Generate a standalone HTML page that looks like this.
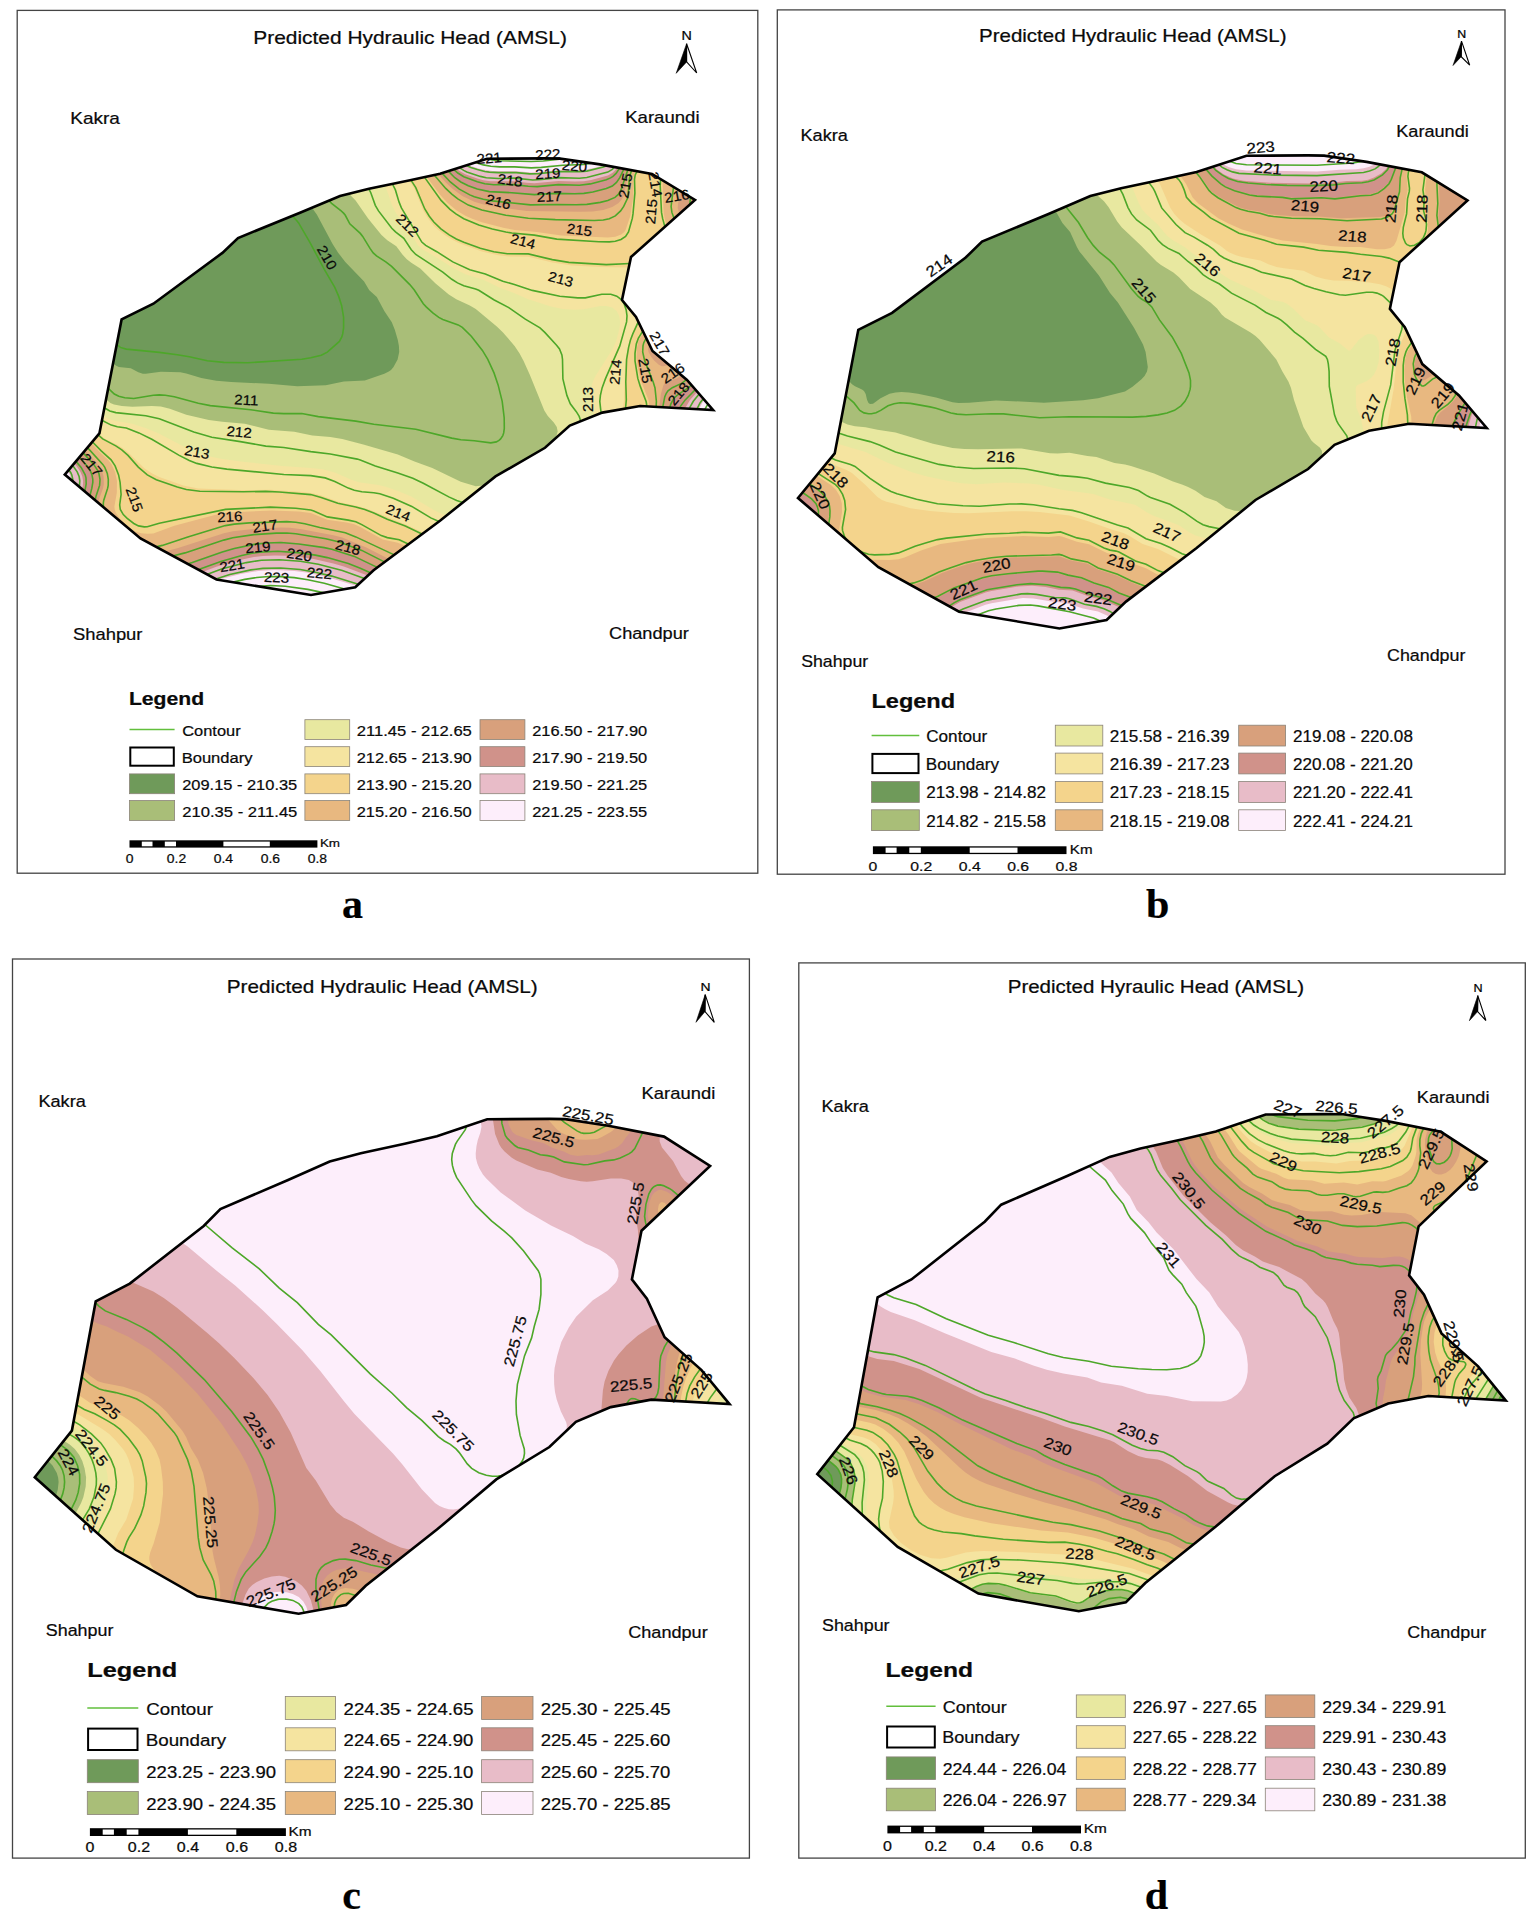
<!DOCTYPE html>
<html lang="en"><head><meta charset="utf-8"><title>Predicted Hydraulic Head (AMSL)</title>
<style>
html,body{margin:0;padding:0;background:#fff}
svg{display:block}
text{font-family:"Liberation Sans",sans-serif;fill:#0a0a0a;stroke:#0a0a0a;stroke-width:0.22px}
.cl{fill:none;stroke:#4da729;stroke-width:1.6}
.lb{font-size:13.5px;fill:#111}
</style></head><body>
<svg width="1535" height="1914" viewBox="0 0 1535 1914">
<rect width="1535" height="1914" fill="#fff"/>
<g id="panel-a">
<rect x="17.2" y="10.4" width="740.6" height="862.8" fill="#fff" stroke="#444" stroke-width="1.3"/>
<text transform="translate(253.3,44.3) scale(1.195,1)" font-size="17.5">Predicted Hydraulic Head (AMSL)</text>
<text transform="translate(686.7,39.8) scale(1.200,1)" font-size="11.9" text-anchor="middle" style="fill:#000">N</text>
<path d="M686.6,43.7L696.7,73.0L686.6,61.9Z" fill="#fff" stroke="#000" stroke-width="1.1" stroke-linejoin="miter"/>
<path d="M686.6,43.7L676.2,73.3L686.6,61.9Z" fill="#000" stroke="#000" stroke-width="0.6"/>
<text transform="translate(70.2,123.8) scale(1.159,1)" font-size="16.4">Kakra</text>
<text transform="translate(625.2,123.0) scale(1.134,1)" font-size="16.4">Karaundi</text>
<text transform="translate(73.0,639.9) scale(1.121,1)" font-size="16.4">Shahpur</text>
<text transform="translate(609.0,638.5) scale(1.110,1)" font-size="16.4">Chandpur</text>
<clipPath id="clip-a"><polygon points="64.8,474.6 99.4,433.4 121.6,319.4 153.4,303.7 222.4,252.9 238.0,238.0 300.6,212.5 340.0,196.0 369.0,188.7 410.0,180.3 440.0,173.7 487.0,158.8 545.0,158.4 560.0,158.6 600.0,164.4 652.0,174.0 695.0,200.0 631.0,257.0 622.0,300.0 636.0,317.0 652.5,351.0 687.0,380.0 713.1,410.0 640.1,406.0 602.3,412.6 569.8,425.6 545.0,447.8 495.5,476.4 440.0,520.7 373.6,570.2 355.3,587.2 311.0,595.0 216.5,579.5 140.5,538.5"/></clipPath>
<g clip-path="url(#clip-a)">
<polygon points="64.8,474.6 99.4,433.4 121.6,319.4 153.4,303.7 222.4,252.9 238.0,238.0 300.6,212.5 340.0,196.0 369.0,188.7 410.0,180.3 440.0,173.7 487.0,158.8 545.0,158.4 560.0,158.6 600.0,164.4 652.0,174.0 695.0,200.0 631.0,257.0 622.0,300.0 636.0,317.0 652.5,351.0 687.0,380.0 713.1,410.0 640.1,406.0 602.3,412.6 569.8,425.6 545.0,447.8 495.5,476.4 440.0,520.7 373.6,570.2 355.3,587.2 311.0,595.0 216.5,579.5 140.5,538.5" fill="#6f9a5a"/>
<path d="M60.3,152.4L718.8,152.4L718.8,600.9L58.8,600.9L58.8,152.4L60.3,152.4ZM180.1,165.9L163.8,167.3L150.3,170.3L138.1,174.9L126.3,181.7L115.8,190.5L107.4,200.4L100.8,211.2L95.2,224.4L91.2,239.4L88.7,257.4L88.4,276.9L90.1,297.9L93.7,318.9L99.3,338.9L105.3,352.7L108.3,357.5L112.8,363.0L115.8,365.5L118.8,366.9L130.8,368.2L138.3,372.2L142.8,373.7L145.8,373.8L160.8,371.8L180.3,372.3L186.3,373.5L201.3,378.1L216.3,380.8L231.3,382.1L268.8,383.7L297.3,386.3L325.8,385.3L343.8,381.5L364.8,380.6L384.3,373.8L388.8,371.6L391.0,369.9L393.5,366.9L397.6,359.4L399.2,351.9L398.9,345.9L397.8,339.9L394.8,329.8L391.8,322.2L384.3,311.0L376.8,297.1L369.3,290.3L364.1,281.4L345.3,261.9L338.3,252.9L332.6,243.9L316.8,214.5L313.2,209.4L303.2,201.9L286.9,192.9L270.2,185.4L249.8,177.9L231.3,172.5L213.3,168.6L196.8,166.5L180.1,165.9Z" fill="#a9be78" fill-rule="evenodd"/>
<path d="M60.3,152.4L82.6,152.4L74.3,162.9L68.0,173.4L62.8,185.4L58.8,198.8L58.8,152.4L60.3,152.4ZM279.3,152.4L718.8,152.4L718.8,600.9L58.8,600.9L58.8,282.4L63.0,302.4L68.8,323.4L75.5,342.9L82.9,360.9L91.8,378.9L99.3,391.0L106.8,400.1L110.4,402.9L114.0,404.4L121.8,405.9L132.3,406.8L151.8,405.9L160.8,406.4L169.8,408.7L186.3,414.8L208.8,419.9L222.3,421.8L244.8,423.8L268.8,429.7L294.3,431.8L312.3,435.4L330.3,437.0L342.3,439.0L363.3,444.4L397.8,454.6L414.5,461.4L432.3,467.9L460.8,481.7L475.8,486.3L484.8,485.2L496.8,481.9L508.8,476.9L520.8,470.4L532.0,462.9L542.8,453.9L551.1,444.9L555.9,437.4L557.7,431.4L556.8,426.9L553.8,422.6L547.8,416.1L544.3,410.4L529.8,374.7L523.6,360.9L519.6,353.4L514.6,345.9L503.0,332.4L496.8,326.4L475.8,309.0L469.8,305.4L456.3,299.2L448.8,294.4L435.3,283.2L420.3,268.4L411.3,262.7L406.8,259.2L402.4,254.4L396.3,246.2L387.3,240.3L381.5,234.9L368.1,218.4L355.6,200.4L349.8,194.4L314.1,170.4L297.4,161.4L277.8,152.4L279.3,152.4Z" fill="#e8e8a0" fill-rule="evenodd"/>
<path d="M336.3,152.4L718.8,152.4L718.8,600.9L58.8,600.9L58.8,350.4L73.5,378.9L86.7,399.9L91.8,406.4L97.2,411.9L102.3,415.6L108.3,418.7L115.8,421.1L132.3,423.8L146.8,428.4L159.3,433.8L190.8,450.2L199.8,453.8L207.3,456.0L222.3,458.9L244.8,461.9L282.3,466.0L310.8,467.9L322.8,469.3L334.8,472.6L351.3,479.8L358.8,482.3L378.3,485.1L385.8,486.8L399.3,491.4L411.3,496.6L433.8,510.0L439.8,513.0L447.3,515.7L456.3,517.8L465.3,519.1L472.8,519.5L480.3,519.2L489.3,518.1L505.8,513.8L523.8,506.2L541.8,495.6L550.8,489.1L559.8,481.7L574.1,467.4L580.1,459.9L585.2,452.4L589.3,444.9L591.8,438.9L593.7,432.9L594.7,426.9L594.6,417.9L590.8,398.4L590.7,392.4L591.5,386.4L593.3,380.4L595.5,375.9L612.3,349.4L616.1,341.4L619.6,327.9L620.2,321.9L619.2,315.9L616.8,311.3L612.3,307.5L606.3,305.9L600.3,306.1L583.8,309.3L574.8,309.8L562.8,309.0L550.8,306.4L528.3,299.3L513.3,292.8L499.8,287.7L483.9,279.9L465.3,274.2L453.3,268.1L435.3,256.7L423.3,249.8L418.1,245.4L409.8,231.7L400.7,219.9L395.7,212.4L391.9,204.9L386.3,188.4L382.8,182.7L378.5,177.9L373.1,173.4L366.3,168.8L335.8,152.4L336.3,152.4Z" fill="#f5e4a0" fill-rule="evenodd"/>
<path d="M375.3,152.4L718.8,152.4L718.8,600.9L58.8,600.9L58.8,380.9L78.3,409.3L87.3,420.6L99.3,434.4L105.3,438.9L117.3,444.7L122.6,447.9L128.2,452.4L144.3,468.2L151.8,473.3L159.3,477.0L183.3,485.6L198.3,488.6L238.8,490.0L270.3,489.8L303.3,492.1L313.8,493.5L321.3,495.6L339.1,501.9L357.3,505.9L369.1,509.4L405.3,524.2L426.3,534.1L436.8,537.6L447.3,539.8L457.8,541.1L468.3,541.5L478.8,541.2L489.3,540.1L499.8,538.2L508.8,535.8L519.3,532.2L528.3,528.5L538.8,523.2L547.8,517.8L556.8,511.6L565.8,504.6L574.8,496.5L582.3,488.9L589.8,480.2L597.2,470.4L605.7,456.9L612.6,443.4L618.4,428.4L622.1,414.9L624.0,399.9L625.0,365.4L626.1,356.4L629.7,339.9L638.0,320.4L640.6,311.4L642.1,302.4L642.6,293.4L642.0,284.4L640.6,278.4L637.8,272.6L634.5,269.4L628.8,267.4L600.3,267.0L571.8,265.5L552.3,262.4L528.3,256.7L508.8,256.4L498.3,255.3L481.8,251.4L459.3,243.3L451.8,239.4L444.7,234.9L438.3,230.0L433.8,225.7L428.1,218.4L423.3,210.6L414.3,188.4L408.6,179.4L397.5,168.9L387.3,161.2L374.2,152.4L375.3,152.4Z" fill="#f4d48c" fill-rule="evenodd"/>
<path d="M399.3,152.4L718.8,152.4L718.8,600.9L58.8,600.9L58.8,402.0L87.6,438.9L100.2,452.4L108.2,459.9L111.7,464.4L115.1,471.9L117.0,480.9L116.8,492.9L114.4,506.4L114.7,509.4L115.7,512.4L120.3,519.3L128.9,527.4L135.3,531.5L141.3,533.2L147.3,533.7L153.3,533.4L174.3,525.8L214.8,515.0L226.8,512.5L271.8,510.4L298.8,511.4L310.8,513.1L327.3,519.7L346.8,522.6L354.3,524.3L360.3,527.0L382.8,539.4L397.8,542.7L415.8,550.5L429.3,554.8L442.8,557.6L457.8,559.4L472.8,559.9L486.3,559.2L502.8,556.7L519.3,552.4L535.8,546.0L550.8,538.2L565.8,528.3L579.3,517.2L591.7,504.9L603.3,491.0L613.5,476.4L622.8,460.5L645.3,416.6L649.0,407.4L649.3,404.4L648.5,399.9L640.8,380.4L637.8,367.6L636.5,357.9L637.0,347.4L638.4,341.4L640.6,336.9L656.6,314.4L663.7,300.9L667.0,291.9L669.4,282.9L670.9,273.9L671.9,263.4L671.9,251.4L670.8,240.9L668.8,231.9L664.7,218.4L663.6,212.4L662.6,185.4L663.1,176.4L662.3,171.9L661.0,168.9L658.8,166.4L655.9,164.4L649.8,163.1L645.3,163.9L642.3,165.1L638.8,167.4L636.0,170.4L634.5,173.4L633.4,177.9L633.4,195.9L630.3,216.1L625.8,229.4L624.3,231.9L621.3,234.4L615.3,236.8L607.8,237.6L561.3,235.6L536.7,231.9L514.8,229.9L504.3,228.0L481.8,222.3L472.8,219.1L465.3,215.7L456.3,210.3L447.3,202.8L439.8,194.4L425.2,174.9L415.4,165.9L398.6,152.4L399.3,152.4Z" fill="#e8b880" fill-rule="evenodd"/>
<path d="M415.8,152.4L651.0,152.4L645.3,154.4L640.8,157.0L636.3,160.6L631.8,166.1L629.5,170.4L628.0,174.9L623.7,195.9L621.3,200.0L618.3,203.2L612.3,207.0L603.3,209.9L592.8,211.4L580.8,211.8L526.8,211.1L490.8,206.0L481.8,204.1L474.3,201.7L462.3,196.0L451.8,188.3L445.8,182.5L433.5,168.9L415.8,152.4ZM664.8,152.4L718.8,152.4L718.8,600.9L58.8,600.9L58.8,418.4L85.6,450.9L96.8,462.9L101.8,470.4L103.6,476.4L103.9,483.9L103.0,488.4L99.1,498.9L98.7,507.9L100.8,519.0L105.3,529.4L111.3,537.8L117.6,543.9L126.3,549.4L135.3,552.6L141.3,553.7L147.3,554.1L153.3,553.7L160.8,552.5L177.3,548.2L223.8,533.3L232.8,531.3L255.3,528.8L280.8,527.6L289.8,527.8L301.8,529.3L333.3,535.3L342.3,537.6L366.3,547.4L393.3,561.3L416.6,567.9L433.8,571.9L448.8,574.4L463.8,575.8L478.8,576.1L492.3,575.2L504.3,573.6L516.3,571.0L528.3,567.4L540.3,562.8L551.7,557.4L562.8,551.0L573.3,543.9L586.8,532.9L598.8,521.0L610.8,506.8L621.6,491.4L629.7,477.9L637.6,462.9L646.8,443.3L653.8,426.9L658.6,411.9L660.9,393.9L663.3,385.4L664.8,382.8L666.3,381.5L676.8,378.6L679.8,376.6L681.3,374.3L681.6,371.4L680.7,368.4L679.8,366.9L676.8,364.6L672.3,363.9L663.3,366.3L661.8,366.2L658.8,364.7L654.3,360.8L651.3,357.1L648.5,351.9L648.0,348.9L648.8,344.4L651.0,341.4L669.4,329.4L675.3,323.4L679.8,316.8L684.7,306.9L688.5,296.4L691.4,284.4L693.0,272.4L693.1,257.4L690.9,242.4L687.6,231.9L679.5,213.9L677.7,207.9L678.1,203.4L682.1,183.9L682.4,176.4L681.5,170.4L679.3,164.4L675.3,158.8L670.8,155.2L664.3,152.4L664.8,152.4Z" fill="#d8a07c" fill-rule="evenodd"/>
<path d="M430.8,152.4L634.9,152.4L628.1,161.4L618.3,181.2L613.8,186.0L609.3,188.6L594.3,192.6L583.8,194.4L574.8,194.7L555.3,194.3L534.3,195.5L489.3,192.4L480.3,190.7L469.8,187.2L460.8,182.8L453.3,177.2L429.5,152.4L430.8,152.4ZM699.3,152.4L718.8,152.4L718.8,600.9L58.8,600.9L58.8,433.1L86.6,464.4L89.9,468.9L92.2,473.4L93.3,477.9L93.4,482.4L89.1,501.9L88.7,513.9L89.5,521.4L90.8,527.4L93.3,534.6L96.3,540.9L102.5,549.9L111.3,558.2L121.8,564.4L132.1,567.9L139.8,569.2L147.3,569.6L163.8,568.2L189.3,562.5L225.3,549.9L246.3,544.8L264.3,542.3L277.8,541.6L286.8,541.8L324.3,546.7L340.8,551.0L357.3,556.7L396.3,575.8L409.8,580.6L424.8,584.9L439.8,588.3L453.3,590.6L468.3,592.0L481.8,592.3L495.3,591.7L507.3,590.2L520.8,587.6L532.8,584.2L544.7,579.9L555.3,575.1L567.3,568.7L577.8,561.9L592.8,550.2L606.3,537.1L618.4,522.9L630.3,505.9L637.2,494.4L643.8,481.8L650.5,467.4L656.6,452.4L664.8,428.4L667.0,419.4L669.3,405.9L670.9,401.4L672.6,398.4L675.5,395.4L685.8,388.9L690.5,384.9L694.9,378.9L698.8,369.9L701.1,359.4L704.3,330.9L714.0,285.9L715.7,272.4L716.2,258.9L715.4,242.4L711.8,213.9L710.8,188.4L709.7,177.9L708.1,170.4L706.1,164.4L703.2,158.4L699.3,152.4Z" fill="#d0928a" fill-rule="evenodd"/>
<path d="M442.8,152.4L625.3,152.4L616.4,168.9L612.3,173.1L607.8,175.5L591.3,180.1L583.8,181.3L574.8,181.6L558.3,180.9L534.3,183.2L526.8,182.8L514.8,181.2L490.8,181.3L483.3,180.2L477.3,178.6L465.3,174.2L458.7,170.4L452.4,164.4L442.3,152.4L442.8,152.4ZM718.8,356.0L718.8,600.9L542.9,600.9L556.8,595.6L568.8,589.8L580.8,582.8L592.8,574.5L603.3,565.9L613.8,555.8L623.2,545.4L632.5,533.4L639.6,522.9L646.8,510.8L653.7,497.4L659.7,483.9L669.3,457.7L679.8,420.3L682.9,411.9L690.0,399.9L702.0,386.4L708.5,377.4L713.5,368.4L718.8,356.0ZM59.2,447.9L69.3,457.8L76.6,465.9L80.5,471.9L82.3,476.4L83.1,480.9L82.9,485.4L78.6,506.4L77.7,519.9L79.2,533.4L81.2,540.9L83.5,546.9L89.3,557.4L96.8,566.4L106.8,574.5L117.3,580.1L127.8,583.5L138.3,585.2L148.8,585.5L160.8,584.4L171.3,582.4L183.3,579.2L216.3,566.8L243.3,559.2L253.8,557.0L262.8,556.0L274.8,555.5L285.3,555.8L301.8,557.3L313.8,559.1L333.3,563.5L343.8,566.5L366.3,575.0L391.8,588.0L402.3,592.7L425.0,600.9L58.8,600.9L58.8,447.5L59.2,447.9Z" fill="#e8bcc8" fill-rule="evenodd"/>
<path d="M456.3,152.4L615.0,152.4L610.9,159.9L607.8,163.2L603.3,165.4L592.8,168.2L583.8,169.8L559.8,170.0L531.3,172.4L514.8,171.1L492.3,170.9L480.3,168.9L471.0,165.9L465.3,163.2L460.8,159.3L455.1,152.4L456.3,152.4ZM718.8,384.0L718.8,600.9L590.6,600.9L600.3,594.3L609.2,587.4L625.8,572.0L640.8,554.4L648.3,543.9L654.9,533.4L666.3,511.5L675.6,488.4L682.8,465.3L692.9,425.4L698.3,410.4L703.0,401.4L718.8,384.0ZM59.4,462.9L64.8,467.7L68.4,471.9L69.9,474.9L70.9,479.4L70.5,488.4L65.3,513.9L64.6,527.4L65.3,536.4L66.7,543.9L69.3,552.8L72.5,560.4L76.8,568.0L82.3,575.4L88.0,581.4L94.8,587.1L102.3,592.0L109.8,595.7L118.8,598.9L127.5,600.9L58.8,600.9L58.8,462.4L59.4,462.9ZM258.3,570.9L274.8,570.0L294.3,570.9L306.3,572.6L325.8,576.7L360.3,587.1L385.6,600.9L160.0,600.9L172.8,598.2L184.8,594.4L220.8,579.1L240.7,573.9L258.3,570.9Z" fill="#fdeefb" fill-rule="evenodd"/>
<path class="cl" d="M115.8,343.3L120.3,347.4L126.3,349.1L159.3,352.4L177.3,354.7L189.3,356.8L207.3,360.7L223.8,362.4L247.8,362.8L301.8,359.3L310.8,357.8L321.3,355.3L327.3,352.2L339.4,341.4L341.8,336.9L342.7,333.9L343.6,327.9L343.6,317.4L341.6,305.4L338.7,296.4L334.8,287.4L324.3,269.4L309.9,242.4L298.6,222.9L295.8,219.5L291.4,215.4M107.3,387.4L114.3,394.0L118.8,396.3L124.8,397.8L133.8,398.5L153.3,395.3L159.3,394.9L165.3,395.2L174.3,396.8L198.3,403.3L210.3,405.6L250.8,409.8L273.3,413.1L283.8,413.6L301.8,413.5L318.3,416.6L355.8,421.1L373.8,424.3L415.8,429.2L451.8,438.1L460.8,439.8L474.3,440.7L490.8,442.9L496.3,441.9L499.0,440.4L500.6,438.9L502.8,435.6L503.7,432.9L504.3,428.4L504.2,417.9L502.2,401.4L498.1,384.9L494.0,372.9L487.8,359.3L482.4,350.4L471.3,336.2L462.3,327.4L458.2,324.9L442.8,319.5L438.8,317.4L432.8,312.9L426.2,306.9L423.3,303.7L414.3,290.0L409.8,284.6L391.6,266.4L385.8,261.9L376.5,255.9L373.2,252.9L370.0,248.4L362.7,236.4L360.3,233.4L349.8,223.8L345.3,215.3L343.8,213.4L340.8,210.5L331.6,203.4L328.7,200.4M103.8,407.5L109.8,410.9L115.8,412.6L145.8,415.8L159.3,418.7L193.8,432.1L211.8,437.2L240.3,441.6L265.8,446.1L283.8,447.5L310.8,451.6L330.3,454.0L357.3,459.1L360.3,459.9L375.3,465.9L397.8,473.1L412.8,478.3L423.3,483.3L448.8,496.9L456.7,500.4L464.2,503.0M580.5,422.4L580.2,419.4L579.2,416.4L576.3,411.7L570.3,403.8L566.9,395.4L562.9,378.9L562.5,359.4L561.9,354.9L559.5,348.9L556.8,345.4L544.8,332.4L540.0,327.9L525.3,319.2L508.8,307.6L493.8,299.7L478.8,290.2L475.6,288.9L463.8,285.7L457.5,282.9L451.8,279.3L442.8,272.2L415.8,254.5L411.3,249.8L403.8,238.4L395.5,231.9L391.8,228.2L378.5,210.9L375.3,205.3L370.8,192.7L368.5,188.4M601.2,414.0L599.8,401.4L600.4,395.4L602.1,387.9L605.4,378.9L619.8,345.9L626.6,321.9L627.0,315.9L626.2,309.9L624.2,303.9L621.3,299.6L616.8,296.2L610.8,294.3L601.8,294.3L585.3,297.9L577.8,297.9L559.8,296.2L532.3,290.4L514.4,284.4L502.8,281.3L485.3,273.9L469.8,269.7L452.8,261.9L436.8,251.7L425.7,245.4L421.8,242.1L401.4,207.9L399.0,201.9L395.4,189.9L392.2,183.5M100.8,419.7L111.3,425.1L117.3,426.7L126.3,428.0L138.9,432.9L151.8,439.3L179.2,455.4L189.3,460.4L196.8,463.4L211.8,467.0L226.8,469.1L283.8,474.5L310.8,475.6L325.2,477.9L334.8,481.6L348.3,488.1L354.3,490.2L361.8,491.8L373.8,492.7L379.8,493.7L393.3,498.2L411.8,506.4L430.8,517.9L439.5,521.7M630.3,263.5L606.3,264.6L568.8,262.4L552.3,259.6L528.3,253.9L507.3,253.7L493.8,251.8L480.3,248.2L463.8,242.3L456.3,239.0L449.2,234.9L440.9,228.9L433.8,222.0L429.3,216.2L424.8,209.0L415.8,187.6L410.5,179.4M625.5,408.9L626.3,399.9L625.8,381.9L626.6,359.4L628.6,347.4L630.5,339.9L632.8,333.9L639.1,320.2M97.7,434.5L102.7,438.9L115.8,445.9L121.8,449.8L128.0,455.4L138.3,467.1L147.3,474.9L156.3,479.8L177.3,487.1L186.3,489.5L199.8,491.3L243.3,491.8L265.8,491.4L279.3,492.0L310.8,494.6L321.2,497.4L337.8,503.3L355.8,507.0L364.8,509.6L373.8,513.1L387.3,519.2L405.3,526.0L423.5,534.7M637.5,170.4L635.2,174.9L634.5,179.4L634.9,192.9L633.0,213.9L632.3,218.4L628.5,231.9L625.6,236.4L621.0,239.4L615.3,241.2L609.3,241.9L598.8,241.7L556.8,239.1L534.3,235.1L511.8,233.0L505.8,232.0L492.3,229.0L478.8,224.9L463.8,218.7L455.9,213.9L450.0,209.4L441.1,200.4L423.9,176.4M665.3,228.4L662.6,218.4L661.5,212.4L660.2,185.4L660.6,178.2M646.3,407.4L646.6,404.4L646.1,401.4L640.3,386.4L637.8,378.4L635.0,360.9L635.0,353.4L636.3,344.0L638.3,338.4L643.2,330.3M91.8,441.3L101.2,450.9L111.1,459.9L115.1,465.9L118.6,474.9L120.1,482.4L121.1,494.4L119.7,504.9L120.3,509.5L123.3,514.6L127.2,518.4L133.8,523.5L138.5,525.9L144.3,526.9L147.3,526.7L159.3,523.3L225.5,509.4L270.3,507.1L295.8,508.3L310.8,510.0L313.8,510.9L327.3,516.9L348.3,520.1L355.8,521.8L361.8,524.6L381.3,535.6L387.3,537.6L399.3,539.8L409.2,544.5M632.2,169.3L630.5,173.4L629.3,179.4L628.2,194.4L627.3,198.8L623.7,206.4L620.6,210.9L615.3,215.9L609.3,218.8L603.3,220.0L594.3,220.5L555.3,219.6L528.3,218.3L505.8,215.2L481.8,210.1L468.3,205.1L457.8,198.9L451.8,194.1L445.7,188.4L434.0,174.7M674.4,219.3L671.9,212.4L671.1,206.4L673.6,186.7M656.1,407.4L656.4,401.4L655.0,387.9L653.2,381.9L644.7,360.9L642.7,351.9L643.0,345.9L643.7,342.9L645.3,339.7L646.8,337.9M86.8,446.9L102.8,464.4L104.8,467.4L107.3,473.4L108.3,479.4L108.2,485.4L107.6,488.4L103.7,500.4L103.3,503.4L103.5,509.1M155.0,547.1L162.3,545.4L187.8,536.9L225.3,525.6L234.3,524.1L249.3,522.9L286.8,521.6L295.8,522.2L304.8,523.7L319.8,527.5L345.3,532.8L355.8,536.9L395.3,555.4M628.1,168.9L621.0,189.9L618.3,194.4L615.0,197.4L607.8,200.6L600.3,202.4L586.8,204.4L576.3,204.7L556.8,204.5L530.5,204.9L492.3,200.9L483.3,199.3L474.3,196.7L469.8,194.9L459.3,189.1L450.3,182.0L441.1,172.1M689.6,205.6L690.7,196.3M662.7,407.4L664.8,396.7L666.3,393.3L668.0,390.9L672.3,387.7L681.5,383.4L684.3,381.5L687.0,378.6M82.8,452.4L93.7,464.4L97.6,470.4L98.9,473.4L100.0,479.4L99.6,485.4L96.1,495.9L95.0,500.6M171.7,556.3L185.0,552.9L223.8,540.1L232.8,537.8L253.8,534.6L276.3,533.1L286.8,533.0L295.8,533.8L325.8,538.7L339.3,541.9L361.8,550.4L385.3,562.4M624.5,167.6L619.8,177.7L616.5,182.4L612.3,186.0L606.3,188.6L592.8,192.0L583.8,193.4L574.8,193.8L555.3,193.4L534.3,194.6L511.8,192.7L489.3,191.6L477.3,189.1L468.3,185.7L460.8,182.0L454.8,177.7L447.6,170.4M669.5,408.9L670.8,404.0L673.8,398.4L677.0,395.4L688.8,387.5L691.8,384.5M78.8,456.4L87.3,466.3L90.8,471.9L92.0,474.9L92.8,479.4L92.8,482.4L91.8,488.4L89.6,496.7M185.8,564.4L192.3,562.6L222.3,551.9L234.3,548.5L255.3,544.1L267.3,543.0L280.8,542.5L298.8,544.0L324.3,547.6L331.8,549.3L354.3,556.4L378.3,567.9M620.1,167.4L616.1,173.4L613.0,176.4L610.6,177.9L606.3,179.7L590.4,183.9L579.3,185.3L558.3,184.6L537.3,186.6L528.3,186.3L513.3,184.6L493.8,184.8L484.8,183.7L477.3,181.8L463.8,176.7L457.8,173.0L453.2,168.9M679.2,408.9L680.8,405.9L685.2,399.9L695.9,389.0M75.3,460.4L81.3,467.7L85.2,474.9L86.0,477.9L86.2,483.9L84.5,492.9M197.3,569.9L220.8,561.4L241.8,555.5L250.8,553.5L259.8,552.1L277.8,551.3L300.3,552.9L315.3,555.1L327.3,557.6L348.3,563.5L360.3,568.2L371.5,573.2M615.4,166.0L612.3,169.4L607.8,172.1L586.8,177.5L579.3,178.2L558.3,177.6L541.8,179.5L532.8,180.0L514.8,178.1L498.3,178.5L486.3,177.7L480.3,176.4L466.8,171.9L463.7,170.4L459.1,167.4M689.0,408.9L693.3,401.3L700.0,393.1M72.1,464.6L77.2,471.9L79.1,476.4L79.8,480.9L79.3,487.9M205.4,575.0L222.3,568.8L246.3,562.6L261.3,560.2L279.3,559.7L300.3,561.2L318.3,564.3L342.3,570.4L365.8,578.9M608.3,164.9L603.3,167.1L586.8,171.1L579.3,171.6L558.3,171.5L538.8,173.6L529.8,173.9L516.3,172.6L498.3,172.6L489.3,172.1L484.8,171.5L477.3,169.5L470.8,167.4L464.9,164.8M696.3,410.4L700.0,402.9L703.6,398.2M68.0,468.7L70.8,472.7L71.8,474.9L72.8,479.4L72.9,483.0M214.3,579.4L229.8,574.5L250.8,569.9L262.8,568.4L280.8,568.0L300.3,569.5L315.3,572.2L331.8,576.1L359.9,584.8M592.8,162.9L583.8,164.5L562.8,165.2L541.3,167.4L531.3,167.9L514.8,166.9L499.8,166.9L490.8,166.3L483.3,164.9L473.8,161.9M704.2,410.4L708.5,403.1M230.0,582.9L244.8,579.4L256.8,577.5L268.8,576.5L280.8,576.6L294.3,577.6L307.8,579.7L324.3,583.2L346.3,589.4M566.4,158.4L543.3,161.0L531.3,161.5L499.8,160.8L492.3,160.0L485.1,158.4M713.7,410.4L714.0,410.1M256.0,586.6L270.3,585.5L285.3,586.2L307.8,589.4L326.6,593.4"/>
</g>
<text transform="translate(489.2,158.0) rotate(-5.0) scale(1.080,1)" font-size="14.0" text-anchor="middle" dy="0.36em">221</text>
<text transform="translate(547.9,154.3) rotate(-3.0) scale(1.080,1)" font-size="14.0" text-anchor="middle" dy="0.36em">222</text>
<text transform="translate(574.6,165.8) rotate(5.0) scale(1.080,1)" font-size="14.0" text-anchor="middle" dy="0.36em">220</text>
<text transform="translate(547.9,173.5) rotate(-3.0) scale(1.080,1)" font-size="14.0" text-anchor="middle" dy="0.36em">219</text>
<text transform="translate(510.1,180.1) rotate(8.0) scale(1.080,1)" font-size="14.0" text-anchor="middle" dy="0.36em">218</text>
<text transform="translate(549.4,196.4) rotate(-3.0) scale(1.080,1)" font-size="14.0" text-anchor="middle" dy="0.36em">217</text>
<text transform="translate(498.6,201.6) rotate(15.0) scale(1.080,1)" font-size="14.0" text-anchor="middle" dy="0.36em">216</text>
<text transform="translate(579.5,229.7) rotate(8.0) scale(1.080,1)" font-size="14.0" text-anchor="middle" dy="0.36em">215</text>
<text transform="translate(523.0,241.2) rotate(15.0) scale(1.080,1)" font-size="14.0" text-anchor="middle" dy="0.36em">214</text>
<text transform="translate(560.8,279.0) rotate(15.0) scale(1.080,1)" font-size="14.0" text-anchor="middle" dy="0.36em">213</text>
<text transform="translate(407.5,225.1) rotate(45.0) scale(1.080,1)" font-size="14.0" text-anchor="middle" dy="0.36em">212</text>
<text transform="translate(327.2,257.5) rotate(60.0) scale(1.080,1)" font-size="14.0" text-anchor="middle" dy="0.36em">210</text>
<text transform="translate(625.3,185.8) rotate(-80.0) scale(1.080,1)" font-size="14.0" text-anchor="middle" dy="0.36em">215</text>
<text transform="translate(655.4,184.4) rotate(80.0) scale(1.080,1)" font-size="14.0" text-anchor="middle" dy="0.36em">214</text>
<text transform="translate(651.1,211.6) rotate(-85.0) scale(1.080,1)" font-size="14.0" text-anchor="middle" dy="0.36em">215</text>
<text transform="translate(676.9,195.9) rotate(-10.0) scale(1.080,1)" font-size="14.0" text-anchor="middle" dy="0.36em">216</text>
<text transform="translate(588.1,399.4) rotate(-90.0) scale(1.080,1)" font-size="14.0" text-anchor="middle" dy="0.36em">213</text>
<text transform="translate(615.3,372.1) rotate(-85.0) scale(1.080,1)" font-size="14.0" text-anchor="middle" dy="0.36em">214</text>
<text transform="translate(645.4,370.7) rotate(80.0) scale(1.080,1)" font-size="14.0" text-anchor="middle" dy="0.36em">215</text>
<text transform="translate(659.7,343.5) rotate(60.0) scale(1.080,1)" font-size="14.0" text-anchor="middle" dy="0.36em">217</text>
<text transform="translate(672.6,373.0) rotate(-35.0) scale(1.080,1)" font-size="14.0" text-anchor="middle" dy="0.36em">216</text>
<text transform="translate(678.4,393.6) rotate(-50.0) scale(1.080,1)" font-size="14.0" text-anchor="middle" dy="0.36em">218</text>
<text transform="translate(246.4,399.8) rotate(3.0) scale(1.080,1)" font-size="14.0" text-anchor="middle" dy="0.36em">211</text>
<text transform="translate(239.2,431.9) rotate(5.0) scale(1.080,1)" font-size="14.0" text-anchor="middle" dy="0.36em">212</text>
<text transform="translate(197.1,452.0) rotate(10.0) scale(1.080,1)" font-size="14.0" text-anchor="middle" dy="0.36em">213</text>
<text transform="translate(91.6,464.9) rotate(50.0) scale(1.080,1)" font-size="14.0" text-anchor="middle" dy="0.36em">217</text>
<text transform="translate(134.6,499.3) rotate(70.0) scale(1.080,1)" font-size="14.0" text-anchor="middle" dy="0.36em">215</text>
<text transform="translate(229.8,516.5) rotate(-3.0) scale(1.080,1)" font-size="14.0" text-anchor="middle" dy="0.36em">216</text>
<text transform="translate(265.0,525.9) rotate(-8.0) scale(1.080,1)" font-size="14.0" text-anchor="middle" dy="0.36em">217</text>
<text transform="translate(398.3,512.8) rotate(22.0) scale(1.080,1)" font-size="14.0" text-anchor="middle" dy="0.36em">214</text>
<text transform="translate(348.1,547.2) rotate(15.0) scale(1.080,1)" font-size="14.0" text-anchor="middle" dy="0.36em">218</text>
<text transform="translate(257.9,547.2) rotate(-5.0) scale(1.080,1)" font-size="14.0" text-anchor="middle" dy="0.36em">219</text>
<text transform="translate(299.4,554.6) rotate(10.0) scale(1.080,1)" font-size="14.0" text-anchor="middle" dy="0.36em">220</text>
<text transform="translate(232.1,565.2) rotate(-10.0) scale(1.080,1)" font-size="14.0" text-anchor="middle" dy="0.36em">221</text>
<text transform="translate(319.5,573.0) rotate(5.0) scale(1.080,1)" font-size="14.0" text-anchor="middle" dy="0.36em">222</text>
<text transform="translate(276.5,577.3) rotate(3.0) scale(1.080,1)" font-size="14.0" text-anchor="middle" dy="0.36em">223</text>
<polygon points="64.8,474.6 99.4,433.4 121.6,319.4 153.4,303.7 222.4,252.9 238.0,238.0 300.6,212.5 340.0,196.0 369.0,188.7 410.0,180.3 440.0,173.7 487.0,158.8 545.0,158.4 560.0,158.6 600.0,164.4 652.0,174.0 695.0,200.0 631.0,257.0 622.0,300.0 636.0,317.0 652.5,351.0 687.0,380.0 713.1,410.0 640.1,406.0 602.3,412.6 569.8,425.6 545.0,447.8 495.5,476.4 440.0,520.7 373.6,570.2 355.3,587.2 311.0,595.0 216.5,579.5 140.5,538.5" fill="none" stroke="#000" stroke-width="2.6" stroke-linejoin="miter"/>
<text transform="translate(128.9,704.8) scale(1.113,1)" font-size="19.0" font-weight="bold">Legend</text>
<line x1="129.5" y1="729.6" x2="174.6" y2="729.6" stroke="#62bf3c" stroke-width="1.5"/>
<text transform="translate(182.2,735.6) scale(1.075,1)" font-size="15.3">Contour</text>
<rect x="130.3" y="747.5" width="43.5" height="18.2" fill="#fff" stroke="#000" stroke-width="2"/>
<text transform="translate(181.7,762.6) scale(1.082,1)" font-size="15.3">Boundary</text>
<rect x="129.5" y="773.9" width="45.1" height="19.8" fill="#6f9a5a" stroke="#8a8378" stroke-width="0.8"/>
<text transform="translate(182.2,789.8) scale(1.074,1)" font-size="15.3">209.15 - 210.35</text>
<rect x="129.5" y="800.6" width="45.1" height="19.8" fill="#a9be78" stroke="#8a8378" stroke-width="0.8"/>
<text transform="translate(182.2,816.5) scale(1.086,1)" font-size="15.3">210.35 - 211.45</text>
<rect x="304.9" y="719.7" width="44.8" height="19.8" fill="#e8e8a0" stroke="#8a8378" stroke-width="0.8"/>
<text transform="translate(356.7,735.6) scale(1.086,1)" font-size="15.3">211.45 - 212.65</text>
<rect x="304.9" y="746.7" width="44.8" height="19.8" fill="#f5e4a0" stroke="#8a8378" stroke-width="0.8"/>
<text transform="translate(356.7,762.6) scale(1.073,1)" font-size="15.3">212.65 - 213.90</text>
<rect x="304.9" y="773.9" width="44.8" height="19.8" fill="#f4d48c" stroke="#8a8378" stroke-width="0.8"/>
<text transform="translate(356.7,789.8) scale(1.073,1)" font-size="15.3">213.90 - 215.20</text>
<rect x="304.9" y="800.6" width="44.8" height="19.8" fill="#e8b880" stroke="#8a8378" stroke-width="0.8"/>
<text transform="translate(356.7,816.5) scale(1.073,1)" font-size="15.3">215.20 - 216.50</text>
<rect x="480.0" y="719.7" width="44.9" height="19.8" fill="#d8a07c" stroke="#8a8378" stroke-width="0.8"/>
<text transform="translate(532.2,735.6) scale(1.073,1)" font-size="15.3">216.50 - 217.90</text>
<rect x="480.0" y="746.7" width="44.9" height="19.8" fill="#d0928a" stroke="#8a8378" stroke-width="0.8"/>
<text transform="translate(532.2,762.6) scale(1.073,1)" font-size="15.3">217.90 - 219.50</text>
<rect x="480.0" y="773.9" width="44.9" height="19.8" fill="#e8bcc8" stroke="#8a8378" stroke-width="0.8"/>
<text transform="translate(532.2,789.8) scale(1.074,1)" font-size="15.3">219.50 - 221.25</text>
<rect x="480.0" y="800.6" width="44.9" height="19.8" fill="#fdeefb" stroke="#8a8378" stroke-width="0.8"/>
<text transform="translate(532.2,816.5) scale(1.074,1)" font-size="15.3">221.25 - 223.55</text>
<rect x="129.5" y="840.3" width="187.9" height="7.3" fill="#000"/>
<rect x="141.8" y="841.6" width="10.7" height="4.7" fill="#fff"/>
<rect x="164.8" y="841.6" width="11.2" height="4.7" fill="#fff"/>
<rect x="223.4" y="841.6" width="46.4" height="4.7" fill="#fff"/>
<text transform="translate(319.9,847.4) scale(1.140,1)" font-size="11.8">Km</text>
<text transform="translate(129.5,862.7) scale(1.160,1)" font-size="12.0" text-anchor="middle">0</text>
<text transform="translate(176.5,862.7) scale(1.160,1)" font-size="12.0" text-anchor="middle">0.2</text>
<text transform="translate(223.4,862.7) scale(1.160,1)" font-size="12.0" text-anchor="middle">0.4</text>
<text transform="translate(270.4,862.7) scale(1.160,1)" font-size="12.0" text-anchor="middle">0.6</text>
<text transform="translate(317.4,862.7) scale(1.160,1)" font-size="12.0" text-anchor="middle">0.8</text>
<text transform="translate(342.1,918.0)" font-size="42.0" font-weight="bold" style="font-family:'Liberation Serif',serif;fill:#000">a</text>
</g>
<g id="panel-b">
<rect x="777.3" y="9.9" width="727.7" height="864.3" fill="#fff" stroke="#444" stroke-width="1.3"/>
<text transform="translate(979.0,41.7) scale(1.172,1)" font-size="17.5">Predicted Hydraulic Head (AMSL)</text>
<text transform="translate(1461.7,37.7) scale(1.200,1)" font-size="10.3" text-anchor="middle" style="fill:#000">N</text>
<path d="M1461.5,41.1L1469.7,65.2L1461.2,56.7Z" fill="#fff" stroke="#000" stroke-width="1.1" stroke-linejoin="miter"/>
<path d="M1461.5,41.1L1453.0,65.5L1461.2,56.7Z" fill="#000" stroke="#000" stroke-width="0.6"/>
<text transform="translate(800.5,140.7) scale(1.067,1)" font-size="17.0">Kakra</text>
<text transform="translate(1396.2,136.8) scale(1.068,1)" font-size="17.0">Karaundi</text>
<text transform="translate(801.2,666.9) scale(1.042,1)" font-size="17.0">Shahpur</text>
<text transform="translate(1387.0,661.3) scale(1.051,1)" font-size="17.0">Chandpur</text>
<clipPath id="clip-b"><polygon points="798.0,498.0 834.7,453.4 858.3,329.8 892.1,312.8 965.4,257.8 982.0,241.6 1048.5,214.0 1090.3,196.1 1121.1,188.2 1164.7,179.1 1196.6,172.0 1246.5,155.8 1308.1,155.4 1324.1,155.6 1366.6,161.9 1421.8,172.3 1467.5,200.4 1399.5,262.2 1389.9,308.8 1404.8,327.2 1422.3,364.1 1459.0,395.5 1486.7,428.0 1409.2,423.7 1369.0,430.8 1334.5,444.9 1308.1,469.0 1255.5,500.0 1196.6,548.0 1126.0,601.6 1106.6,620.0 1059.5,628.5 959.1,611.7 878.4,567.2"/></clipPath>
<g clip-path="url(#clip-b)">
<polygon points="798.0,498.0 834.7,453.4 858.3,329.8 892.1,312.8 965.4,257.8 982.0,241.6 1048.5,214.0 1090.3,196.1 1121.1,188.2 1164.7,179.1 1196.6,172.0 1246.5,155.8 1308.1,155.4 1324.1,155.6 1366.6,161.9 1421.8,172.3 1467.5,200.4 1399.5,262.2 1389.9,308.8 1404.8,327.2 1422.3,364.1 1459.0,395.5 1486.7,428.0 1409.2,423.7 1369.0,430.8 1334.5,444.9 1308.1,469.0 1255.5,500.0 1196.6,548.0 1126.0,601.6 1106.6,620.0 1059.5,628.5 959.1,611.7 878.4,567.2" fill="#6f9a5a"/>
<path d="M793.5,149.4L1492.5,149.4L1492.5,633.9L792.0,633.9L792.0,149.4L793.5,149.4ZM881.9,171.9L865.9,174.9L852.0,179.7L840.0,186.4L830.5,194.4L826.5,198.9L822.2,204.9L816.2,216.9L812.3,230.4L810.2,246.9L810.0,257.4L810.6,267.9L813.8,290.4L819.5,314.4L827.9,339.9L835.5,357.9L844.5,374.6L849.0,381.0L852.0,384.2L855.0,386.3L862.0,389.4L864.0,391.0L865.7,393.9L867.1,399.9L868.5,402.9L870.0,404.0L873.0,403.7L880.5,398.3L889.5,393.7L895.5,392.4L901.5,392.1L909.0,392.4L918.0,393.7L936.0,397.4L952.5,402.2L958.5,402.9L969.0,402.7L996.0,400.4L1044.0,402.7L1083.0,400.3L1098.0,398.2L1125.0,391.4L1132.5,386.7L1141.5,379.3L1144.5,376.0L1147.0,371.4L1147.8,366.9L1145.6,351.9L1143.0,344.4L1134.0,327.7L1117.9,302.4L1110.0,293.1L1098.9,275.4L1079.4,251.4L1076.9,246.9L1070.1,231.9L1062.4,222.9L1056.5,212.4L1051.5,207.9L1039.4,200.4L1021.5,192.6L999.0,185.4L974.0,179.4L948.0,174.6L922.5,171.5L901.5,170.7L881.9,171.9Z" fill="#a9be78" fill-rule="evenodd"/>
<path d="M1023.0,149.4L1492.5,149.4L1492.5,633.9L792.0,633.9L792.0,357.7L807.9,384.9L815.1,395.4L822.0,404.2L829.1,411.9L835.5,417.5L841.5,421.7L847.5,424.4L855.0,426.3L865.5,427.3L877.5,429.8L895.5,432.5L933.0,443.7L952.5,447.9L964.5,448.9L978.0,449.3L1021.5,448.4L1050.0,453.2L1057.5,453.6L1069.5,452.7L1087.5,456.0L1096.5,456.9L1114.5,462.9L1125.0,464.4L1131.0,465.9L1154.1,473.4L1173.0,481.6L1182.0,484.4L1188.1,486.9L1195.5,490.8L1204.5,496.9L1216.5,501.3L1225.9,507.9L1234.5,510.8L1239.0,511.1L1243.5,510.6L1254.7,507.9L1267.5,502.9L1280.6,495.9L1293.9,486.9L1304.6,477.9L1314.6,467.4L1320.5,458.4L1322.1,453.9L1322.0,450.9L1320.0,447.7L1314.0,443.1L1311.4,440.4L1303.4,426.9L1294.0,399.9L1291.0,387.9L1288.5,381.7L1282.4,371.4L1276.3,359.4L1259.8,339.9L1255.5,335.9L1250.6,332.4L1225.0,317.4L1221.7,314.4L1217.1,308.4L1210.5,302.4L1190.2,288.9L1179.0,277.2L1173.4,272.4L1161.0,265.0L1156.5,261.6L1140.9,245.4L1121.9,227.4L1117.2,221.4L1108.5,207.1L1104.0,201.3L1084.7,183.9L1072.5,175.1L1059.8,167.4L1042.5,158.5L1022.0,149.4L1023.0,149.4Z" fill="#e8e8a0" fill-rule="evenodd"/>
<path d="M1084.5,149.4L1492.5,149.4L1492.5,633.9L792.0,633.9L792.0,403.3L803.2,416.4L813.0,426.6L821.9,434.4L829.5,439.6L840.0,444.5L865.5,452.0L886.5,462.3L912.0,472.3L927.0,476.4L951.0,481.6L961.5,483.3L976.5,484.2L1003.5,482.5L1029.0,483.4L1038.0,484.4L1062.0,489.8L1093.5,493.9L1110.0,499.6L1129.5,503.4L1135.5,505.0L1147.5,512.7L1153.5,515.8L1179.0,525.2L1189.5,532.5L1195.5,535.6L1213.5,540.5L1224.0,542.5L1240.5,543.3L1249.5,542.5L1258.5,541.0L1275.0,536.3L1293.0,528.4L1311.0,517.6L1327.3,504.9L1341.0,491.1L1346.8,483.9L1351.8,476.4L1356.7,467.4L1360.5,457.9L1363.0,447.9L1363.9,438.9L1363.6,431.4L1360.8,417.9L1356.2,407.4L1355.7,387.9L1356.2,386.4L1357.6,384.9L1366.5,381.3L1371.0,378.0L1374.0,374.4L1376.9,368.4L1378.8,360.9L1379.3,350.4L1378.5,341.5L1376.4,336.9L1374.0,334.8L1371.0,333.9L1368.0,334.1L1365.0,335.2L1358.7,339.9L1351.5,349.1L1350.0,350.4L1348.5,350.6L1339.5,343.3L1329.0,337.5L1320.2,327.9L1317.0,325.2L1305.0,320.3L1293.0,308.4L1287.0,303.8L1282.5,301.8L1270.5,299.8L1255.5,291.3L1230.0,279.5L1212.2,267.9L1202.9,260.4L1192.5,253.3L1185.0,247.3L1173.0,240.2L1167.0,235.7L1157.7,224.4L1146.2,213.9L1142.2,209.4L1139.0,203.4L1132.1,186.9L1129.4,182.4L1125.0,177.1L1119.2,171.9L1113.0,167.3L1083.4,149.4L1084.5,149.4Z" fill="#f5e4a0" fill-rule="evenodd"/>
<path d="M1122.0,149.4L1492.5,149.4L1492.5,633.9L792.0,633.9L792.0,431.2L810.0,448.3L822.0,458.4L831.0,463.8L846.0,469.7L852.0,473.0L865.5,484.9L877.5,496.9L882.0,499.9L886.5,501.7L894.0,503.4L910.5,508.3L930.0,511.1L954.0,512.9L969.0,513.3L1012.5,511.3L1026.0,511.2L1039.5,512.1L1069.5,515.6L1089.0,521.4L1111.5,529.5L1123.5,533.1L1129.5,536.1L1142.6,543.9L1158.0,549.1L1181.3,560.4L1191.0,562.9L1203.0,564.6L1228.5,566.3L1240.5,566.1L1251.0,565.3L1261.5,563.7L1272.0,561.3L1282.5,558.1L1293.0,554.1L1303.5,549.2L1314.0,543.4L1324.5,536.4L1333.5,529.6L1342.5,521.6L1350.2,513.9L1357.9,504.9L1365.0,495.4L1371.3,485.4L1377.0,474.4L1381.7,462.9L1384.9,452.4L1386.9,440.4L1387.5,423.9L1393.6,389.4L1397.3,353.4L1399.0,347.4L1406.0,330.9L1407.6,324.9L1407.5,317.4L1405.5,309.9L1402.5,303.8L1395.6,293.4L1393.5,290.8L1390.5,288.5L1386.0,286.2L1380.0,284.2L1369.5,282.5L1347.0,280.7L1333.5,280.5L1324.5,279.1L1315.5,276.4L1303.5,270.7L1284.0,268.3L1276.5,266.9L1269.0,264.5L1260.4,260.4L1242.0,257.1L1236.0,255.3L1230.0,252.8L1227.0,251.1L1220.0,245.4L1201.8,234.9L1185.0,223.9L1179.0,218.9L1174.4,213.9L1170.4,207.9L1159.9,183.9L1157.3,179.4L1137.0,161.4L1121.3,149.4L1122.0,149.4Z" fill="#f4d48c" fill-rule="evenodd"/>
<path d="M1149.0,149.4L1492.5,149.4L1492.5,633.9L792.0,633.9L792.0,453.9L817.5,476.2L831.0,484.9L836.1,489.9L839.7,495.9L841.9,503.4L842.0,512.4L839.2,528.9L840.0,534.0L842.2,539.4L847.5,547.0L855.0,553.3L864.0,557.7L873.0,559.7L889.5,560.1L898.5,559.3L904.5,557.6L921.0,550.5L940.5,544.1L979.5,538.4L1023.0,536.1L1048.5,537.0L1059.0,536.1L1062.0,536.6L1077.0,541.8L1089.0,544.2L1107.0,553.1L1119.0,556.3L1134.0,564.0L1146.0,568.3L1156.5,573.9L1179.0,581.0L1195.5,584.5L1213.5,586.6L1231.5,587.3L1249.5,586.4L1267.5,583.9L1285.5,579.5L1303.5,572.8L1319.3,564.9L1335.0,554.8L1350.0,542.7L1363.5,529.2L1374.7,515.4L1381.5,505.5L1387.3,495.9L1397.6,474.9L1405.6,452.4L1408.8,440.4L1410.9,429.9L1411.5,422.4L1411.2,416.4L1407.0,397.4L1404.8,380.4L1404.3,369.9L1404.9,360.9L1406.2,354.9L1408.1,350.4L1418.6,335.4L1423.5,326.4L1426.1,318.9L1427.4,309.9L1427.3,300.9L1425.9,291.9L1423.5,282.6L1417.8,266.4L1416.6,260.4L1417.8,254.4L1425.9,239.4L1428.0,230.4L1428.0,222.9L1425.8,210.9L1426.1,200.4L1425.1,189.9L1427.0,171.9L1426.6,168.9L1425.2,165.9L1422.0,163.2L1417.5,162.5L1412.4,164.4L1410.0,166.4L1408.2,168.9L1407.1,171.9L1406.6,176.4L1407.7,189.9L1405.6,200.4L1404.8,212.4L1396.5,240.7L1394.0,245.4L1390.5,248.0L1384.5,249.2L1377.0,249.2L1360.5,247.1L1345.5,246.9L1330.5,245.9L1317.0,244.0L1282.5,240.4L1266.0,236.5L1242.0,229.6L1228.5,223.6L1218.7,218.4L1198.3,203.4L1192.6,197.4L1186.1,183.9L1180.9,176.4L1163.7,161.4L1149.0,149.4Z" fill="#e8b880" fill-rule="evenodd"/>
<path d="M1170.0,149.4L1492.5,149.4L1492.5,633.9L792.0,633.9L792.0,471.8L808.5,484.4L819.0,491.5L823.2,495.9L827.1,501.9L828.6,506.4L829.1,512.4L826.8,531.9L827.4,542.4L828.9,548.4L831.0,553.7L837.0,563.5L841.5,568.4L846.0,572.3L856.5,578.8L868.5,583.2L883.5,586.1L900.0,586.7L913.5,584.9L924.1,581.4L942.0,573.1L958.5,567.0L969.0,563.8L985.5,560.4L1009.5,557.6L1059.0,556.2L1071.0,560.4L1087.5,563.7L1098.0,569.4L1116.0,575.3L1134.0,583.4L1159.5,593.0L1179.0,598.6L1198.5,602.6L1218.0,605.0L1237.5,605.7L1257.0,604.6L1275.0,601.9L1293.0,597.4L1311.0,590.7L1326.9,582.9L1342.5,573.1L1356.8,561.9L1369.5,549.8L1382.4,534.9L1390.0,524.4L1396.8,513.9L1403.5,501.9L1409.4,489.9L1420.5,463.1L1437.1,416.4L1440.0,412.7L1449.0,405.5L1453.5,400.8L1456.4,396.9L1457.8,392.4L1457.3,386.4L1455.6,381.9L1452.5,377.4L1449.0,374.6L1444.5,373.0L1438.5,373.0L1432.5,375.0L1425.0,380.0L1422.0,380.5L1419.0,378.5L1417.0,375.9L1415.8,372.9L1414.5,365.4L1415.2,359.4L1417.5,354.4L1420.5,351.6L1434.0,342.5L1438.0,338.4L1441.2,333.9L1445.9,323.4L1448.9,309.9L1449.7,294.9L1448.5,276.9L1444.3,246.9L1439.5,225.9L1438.3,216.9L1439.6,201.9L1438.9,182.4L1441.8,171.9L1442.4,167.4L1442.0,162.9L1440.4,158.4L1438.3,155.4L1434.0,151.9L1429.5,150.3L1425.0,149.8L1420.5,150.4L1416.0,151.9L1411.5,154.6L1407.3,158.4L1403.2,164.4L1401.1,170.4L1399.4,179.4L1398.6,191.4L1397.5,195.9L1392.8,209.4L1390.9,212.4L1389.0,214.0L1384.5,216.1L1380.0,216.9L1341.0,218.3L1318.5,216.5L1293.0,216.3L1275.0,214.8L1267.5,213.7L1260.0,211.5L1246.5,209.4L1239.0,207.2L1221.0,197.9L1213.2,192.9L1210.2,189.9L1197.0,171.8L1170.0,149.4Z" fill="#d8a07c" fill-rule="evenodd"/>
<path d="M1188.0,149.4L1404.9,149.4L1399.1,158.4L1392.0,176.2L1389.0,182.0L1383.0,187.8L1377.0,191.8L1369.5,194.0L1359.0,194.5L1336.5,197.5L1332.0,197.6L1321.5,196.6L1294.5,197.7L1282.5,196.2L1264.5,195.5L1252.5,194.4L1236.0,190.2L1228.5,187.5L1222.5,184.1L1213.5,176.6L1203.0,165.1L1186.6,149.4L1188.0,149.4ZM1468.5,149.4L1492.5,149.4L1492.5,633.9L792.0,633.9L792.0,487.8L802.5,493.5L808.0,497.4L813.1,501.9L816.0,506.6L817.3,513.9L813.5,534.9L813.1,542.4L813.4,548.4L814.7,555.9L816.4,561.9L819.7,569.4L823.3,575.4L828.0,581.4L832.4,585.9L843.0,593.9L849.0,597.2L856.5,600.5L871.5,604.6L882.0,606.0L892.5,606.4L903.0,605.9L913.5,604.4L936.0,598.7L954.0,589.3L976.5,581.0L985.5,578.3L996.0,576.3L1015.5,574.0L1036.5,572.3L1048.5,572.4L1057.5,573.3L1066.5,576.0L1081.5,578.8L1095.0,584.3L1108.5,588.5L1119.0,594.0L1147.5,605.1L1165.5,611.3L1182.0,616.1L1200.0,620.1L1216.5,622.5L1233.0,623.8L1249.5,623.9L1264.5,622.8L1278.0,620.9L1291.5,618.0L1305.0,614.0L1318.5,608.9L1330.5,603.2L1342.5,596.5L1353.0,589.5L1369.5,576.3L1383.8,561.9L1397.2,545.4L1409.0,527.4L1417.3,512.4L1425.0,495.9L1449.6,434.4L1458.8,414.9L1468.4,398.4L1471.1,390.9L1472.5,383.4L1472.9,374.4L1471.0,350.4L1470.8,339.9L1473.9,303.9L1474.6,287.4L1472.8,234.9L1474.0,225.9L1479.3,204.9L1480.3,192.9L1479.5,182.4L1477.0,170.4L1472.6,158.4L1467.2,149.4L1468.5,149.4Z" fill="#d0928a" fill-rule="evenodd"/>
<path d="M1201.5,149.4L1394.7,149.4L1388.7,164.4L1386.1,168.9L1381.5,173.3L1374.0,177.6L1368.0,179.7L1362.0,180.7L1347.0,181.1L1329.0,183.1L1314.0,183.5L1270.5,182.7L1243.5,180.7L1233.0,178.6L1224.0,174.5L1216.5,169.2L1200.3,149.4L1201.5,149.4ZM1492.5,355.4L1492.5,633.9L1311.9,633.9L1327.5,628.0L1342.5,620.8L1357.5,611.9L1370.7,602.4L1383.0,591.9L1395.0,579.7L1406.1,566.4L1416.0,552.4L1423.0,540.9L1429.5,528.9L1435.8,515.4L1442.0,500.4L1468.5,425.7L1471.8,414.9L1481.4,395.4L1485.7,384.9L1489.4,371.4L1492.5,355.4ZM792.1,519.9L793.0,527.4L793.3,548.4L794.7,558.9L798.5,572.4L804.3,584.4L808.2,590.4L813.1,596.4L819.0,602.3L825.0,607.2L831.2,611.4L838.5,615.3L853.5,621.1L867.0,624.0L880.5,625.1L894.0,624.8L909.0,622.7L922.5,619.4L936.0,614.9L946.5,610.1L960.0,602.1L985.5,592.5L991.5,591.0L1018.5,586.5L1032.0,585.8L1045.5,587.0L1059.0,589.7L1072.5,590.5L1089.0,596.6L1102.5,599.9L1122.2,608.4L1137.0,616.3L1150.5,622.5L1167.0,628.9L1182.4,633.9L792.0,633.9L792.0,519.5L792.1,519.9Z" fill="#e8bcc8" fill-rule="evenodd"/>
<path d="M1213.5,149.4L1383.5,149.4L1380.2,156.9L1377.5,161.4L1374.0,164.7L1369.5,166.7L1363.5,168.2L1356.0,169.3L1339.5,169.8L1317.0,171.6L1246.5,170.4L1236.0,169.3L1228.5,166.9L1222.5,163.7L1219.0,159.9L1212.3,149.4L1213.5,149.4ZM1492.5,400.7L1492.5,633.9L1364.6,633.9L1375.5,626.6L1386.0,618.5L1396.5,609.2L1406.2,599.4L1415.4,588.9L1423.5,578.3L1431.4,566.4L1438.5,554.4L1444.7,542.4L1450.8,528.9L1456.5,514.4L1461.7,498.9L1467.4,479.4L1473.0,457.7L1476.9,440.4L1480.5,420.9L1483.4,414.9L1492.5,400.7ZM1023.0,597.9L1033.5,598.4L1053.0,601.7L1065.0,602.8L1083.0,608.4L1098.0,611.6L1108.1,615.9L1122.0,624.9L1137.7,633.9L928.0,633.9L943.5,626.2L961.5,614.1L985.5,604.7L991.5,603.2L1023.0,597.9ZM792.2,609.9L799.5,617.1L807.2,623.4L816.0,629.1L824.9,633.9L792.0,633.9L792.2,609.9Z" fill="#fdeefb" fill-rule="evenodd"/>
<path class="cl" d="M844.9,394.9L854.0,402.9L859.8,410.4L864.0,412.9L868.5,413.8L871.5,413.8L876.0,412.7L880.7,410.4L888.0,405.8L894.0,403.8L900.0,402.8L910.5,403.4L930.0,406.9L936.0,408.2L951.0,413.0L957.0,414.1L966.0,414.7L991.5,413.7L1003.5,413.9L1039.5,417.8L1069.5,416.7L1132.5,417.1L1146.3,416.4L1158.1,414.9L1167.0,413.0L1174.5,410.3L1181.0,405.9L1185.0,401.4L1188.2,395.4L1190.1,389.4L1190.5,386.4L1190.5,380.4L1189.0,372.9L1181.3,353.4L1172.2,336.9L1159.5,319.9L1151.8,306.9L1147.1,302.4L1141.5,299.0L1138.2,296.4L1131.7,288.9L1114.1,264.9L1109.8,260.4L1099.5,252.2L1093.2,245.4L1087.5,237.5L1078.5,222.5L1065.3,206.1M838.4,432.9L847.5,436.0L870.0,441.6L879.4,444.9L895.5,451.9L939.0,464.4L955.5,467.0L973.5,468.5L1011.0,468.0L1024.5,468.7L1059.0,475.4L1077.0,476.9L1087.5,478.2L1105.5,483.1L1129.5,487.5L1138.5,490.6L1147.5,496.1L1150.5,497.4L1170.0,504.2L1185.0,512.9L1197.1,521.4L1203.0,524.7L1209.0,526.6L1220.8,529.0M1348.1,440.4L1346.8,435.9L1338.3,423.9L1336.7,420.9L1334.5,414.9L1329.3,386.4L1329.1,371.4L1328.3,363.9L1327.4,359.4L1325.8,356.4L1315.5,349.4L1303.0,338.4L1294.5,332.1L1286.8,324.9L1281.0,320.1L1278.0,318.2L1266.0,312.5L1255.4,305.4L1231.5,293.1L1219.5,284.0L1208.6,278.4L1203.0,274.6L1196.4,267.9L1188.0,261.5L1179.0,253.5L1168.2,248.4L1162.5,244.6L1158.0,240.2L1150.5,230.2L1136.7,219.9L1131.5,213.9L1128.0,207.6L1122.9,194.4L1119.4,187.9M1392.0,304.3L1383.6,296.4L1381.3,294.9L1377.0,293.1L1372.5,292.3L1366.5,292.2L1345.5,295.3L1339.5,294.7L1326.0,291.7L1314.0,288.4L1305.0,285.4L1291.5,279.0L1261.5,272.2L1252.5,268.2L1233.0,261.9L1224.0,258.0L1219.5,255.2L1213.5,249.4L1207.5,245.2L1194.0,237.1L1185.0,232.6L1176.0,224.5L1161.7,207.9L1154.8,191.4L1153.2,188.4L1148.2,181.6M1381.6,429.7L1381.7,422.4L1383.5,411.9L1390.7,384.9L1395.0,350.1L1401.8,329.4L1402.6,323.5M830.3,457.6L835.5,460.0L850.5,464.4L855.0,466.4L870.0,478.4L883.5,487.5L891.0,491.5L897.0,493.7L916.5,499.2L937.5,503.8L963.0,505.8L979.5,506.3L1009.5,504.0L1021.5,503.9L1033.5,504.8L1059.0,508.8L1072.5,510.4L1081.5,512.8L1117.5,524.9L1128.0,528.1L1146.0,538.8L1161.0,543.4L1170.0,547.5L1182.0,553.8L1188.1,555.8M1409.8,168.9L1408.4,171.9L1407.9,176.4L1409.5,188.4L1409.3,191.4L1407.5,198.9L1406.6,213.9L1403.3,227.4L1402.8,233.4L1403.3,237.9L1405.5,243.1L1407.0,244.7L1410.0,246.0L1414.5,245.3L1419.4,242.4L1423.5,237.4L1425.2,233.4L1426.0,230.4L1426.5,224.4L1425.6,218.4L1423.6,210.9L1424.2,198.9L1422.9,189.9L1425.1,173.5M1400.5,262.4L1389.0,258.1L1381.5,256.5L1360.5,254.3L1347.0,252.4L1318.5,250.3L1303.5,247.1L1276.5,244.2L1264.5,240.3L1239.0,233.2L1210.5,217.9L1204.0,212.4L1192.0,203.4L1186.5,197.3L1184.2,189.9L1181.6,183.9L1179.0,179.9L1175.3,176.4M1407.8,424.5L1407.4,414.9L1404.9,398.4L1403.2,381.9L1403.2,365.4L1404.1,357.9L1405.9,351.9L1407.3,348.9L1412.6,341.0M817.6,473.2L835.5,484.7L838.5,487.7L842.6,494.4L844.7,500.4L845.6,509.4L842.4,527.4L842.5,530.4L844.5,536.5L847.5,541.2L849.8,543.9M854.7,548.1L862.5,552.3L868.5,554.2L874.5,554.9L889.6,554.4L898.5,552.9L915.0,546.3L925.5,543.0L937.5,539.6L946.5,538.1L987.0,534.0L1009.5,533.3L1024.5,532.3L1048.5,533.1L1060.5,531.9L1077.0,537.9L1089.0,540.2L1104.0,547.9L1110.0,550.1L1116.0,551.1L1119.0,552.1L1135.5,560.9L1146.0,564.3L1158.0,570.6L1164.7,573.1M1402.5,167.4L1400.2,177.9L1399.5,191.8L1394.4,209.4L1393.5,211.8L1392.0,213.9L1387.5,217.1L1381.5,219.0L1347.0,220.8L1320.0,218.7L1291.5,218.2L1273.5,216.5L1269.0,215.9L1260.0,213.2L1248.0,211.2L1240.5,209.3L1236.0,207.6L1222.5,200.2L1218.0,197.7L1212.0,193.5L1209.0,190.4L1199.4,176.4L1195.5,171.8M1438.4,227.4L1436.9,215.4L1437.8,203.4L1436.9,183.9L1437.2,180.9M1437.7,376.6L1432.5,379.1L1425.0,385.3L1423.5,386.0L1422.0,386.0L1419.0,383.2L1416.0,378.2L1414.4,374.4L1413.2,363.9L1414.5,357.5L1415.6,354.9L1417.5,352.3M1431.8,425.4L1434.1,417.9L1436.2,413.4L1439.2,410.4L1447.8,404.4L1452.0,400.2L1455.3,395.4L1456.0,391.9M808.8,483.5L817.5,489.3L822.0,493.1L825.5,497.4L828.0,501.5L829.5,506.0L830.0,510.9L829.8,516.9L828.6,525.0M907.3,584.2L913.8,582.9L922.5,579.9L939.0,572.1L950.0,567.9L966.0,562.6L976.5,560.3L991.5,557.8L1006.5,556.2L1051.5,555.0L1059.0,554.4L1062.0,555.1L1071.3,558.9L1087.5,561.9L1098.2,567.9L1117.5,574.3L1131.0,580.7L1146.7,586.7M1396.0,167.0L1391.3,179.4L1389.0,183.7L1384.4,188.4L1378.2,192.9L1371.0,195.2L1360.5,195.7L1335.0,198.9L1321.5,197.8L1291.4,198.9L1282.5,197.4L1257.0,196.1L1249.5,195.0L1234.5,190.7L1225.3,186.9L1220.8,183.9L1212.0,176.1L1205.1,168.2M1451.7,426.9L1458.5,413.4L1465.8,401.7M801.9,492.0L811.6,498.9L816.0,503.6L817.2,506.4L818.5,510.9L818.3,516.2M933.1,598.0L937.5,596.5L954.0,587.9L982.5,577.8L991.5,575.8L1008.0,573.7L1038.0,571.1L1042.5,571.1L1057.5,572.1L1068.0,575.1L1081.5,577.7L1094.0,582.9L1108.6,587.4L1119.0,592.9L1132.4,598.0M1389.6,165.9L1387.5,169.7L1382.5,174.9L1374.0,179.9L1368.0,181.8L1362.0,182.8L1345.5,183.5L1333.5,184.9L1311.0,185.6L1287.0,185.4L1266.0,184.5L1248.0,183.0L1237.5,181.5L1228.5,178.5L1222.1,174.9L1215.9,170.4L1212.0,165.9M1465.7,427.1L1469.8,414.9L1472.1,409.5M947.9,606.9L954.0,602.9L960.0,599.8L987.0,589.8L1017.0,584.7L1030.5,583.6L1047.0,584.8L1060.6,587.4L1069.5,587.9L1075.5,589.0L1092.1,594.9L1105.5,598.8L1122.8,606.0M1380.9,163.8L1378.5,166.5L1375.1,168.9L1369.5,171.1L1363.5,172.5L1317.0,175.6L1275.0,175.1L1239.0,173.4L1232.5,171.9L1227.0,169.8L1222.2,167.4L1218.6,164.4M1475.2,428.4L1477.1,419.4L1478.1,417.0M957.4,611.8L963.0,609.0L987.0,600.1L1021.5,593.9L1027.5,593.6L1036.5,594.4L1054.5,597.5L1065.0,597.9L1069.5,598.7L1084.5,604.3L1096.5,606.4L1104.0,608.8L1110.0,611.4L1114.5,614.3M1363.2,161.1L1353.0,163.0L1317.0,165.3L1246.5,164.8L1236.0,163.5L1228.9,161.0M1485.5,428.4L1485.9,426.3M976.0,615.4L988.5,610.8L996.0,609.0L1018.8,605.4L1030.5,605.0L1038.0,605.9L1069.5,611.7L1093.5,618.0L1102.6,621.9"/>
</g>
<text transform="translate(939.1,265.3) rotate(-35.0) scale(1.130,1)" font-size="15.0" text-anchor="middle" dy="0.36em">214</text>
<text transform="translate(1144.0,290.5) rotate(50.0) scale(1.130,1)" font-size="15.0" text-anchor="middle" dy="0.36em">215</text>
<text transform="translate(1000.7,456.7) rotate(3.0) scale(1.130,1)" font-size="15.0" text-anchor="middle" dy="0.36em">216</text>
<text transform="translate(1260.7,147.2) rotate(-5.0) scale(1.130,1)" font-size="15.0" text-anchor="middle" dy="0.36em">223</text>
<text transform="translate(1340.9,157.8) rotate(5.0) scale(1.130,1)" font-size="15.0" text-anchor="middle" dy="0.36em">222</text>
<text transform="translate(1267.8,168.1) rotate(5.0) scale(1.130,1)" font-size="15.0" text-anchor="middle" dy="0.36em">221</text>
<text transform="translate(1323.7,185.9) rotate(-3.0) scale(1.130,1)" font-size="15.0" text-anchor="middle" dy="0.36em">220</text>
<text transform="translate(1305.1,205.9) rotate(5.0) scale(1.130,1)" font-size="15.0" text-anchor="middle" dy="0.36em">219</text>
<text transform="translate(1352.4,236.0) rotate(5.0) scale(1.130,1)" font-size="15.0" text-anchor="middle" dy="0.36em">218</text>
<text transform="translate(1356.7,274.7) rotate(10.0) scale(1.130,1)" font-size="15.0" text-anchor="middle" dy="0.36em">217</text>
<text transform="translate(1207.6,264.7) rotate(40.0) scale(1.130,1)" font-size="15.0" text-anchor="middle" dy="0.36em">216</text>
<text transform="translate(1391.1,208.8) rotate(-85.0) scale(1.130,1)" font-size="15.0" text-anchor="middle" dy="0.36em">218</text>
<text transform="translate(1421.7,208.8) rotate(-88.0) scale(1.130,1)" font-size="15.0" text-anchor="middle" dy="0.36em">218</text>
<text transform="translate(1392.5,352.1) rotate(-80.0) scale(1.130,1)" font-size="15.0" text-anchor="middle" dy="0.36em">218</text>
<text transform="translate(1371.0,408.0) rotate(-65.0) scale(1.130,1)" font-size="15.0" text-anchor="middle" dy="0.36em">217</text>
<text transform="translate(1415.4,380.8) rotate(-65.0) scale(1.130,1)" font-size="15.0" text-anchor="middle" dy="0.36em">219</text>
<text transform="translate(1442.7,395.1) rotate(-50.0) scale(1.130,1)" font-size="15.0" text-anchor="middle" dy="0.36em">219</text>
<text transform="translate(1459.9,416.6) rotate(-75.0) scale(1.130,1)" font-size="15.0" text-anchor="middle" dy="0.36em">221</text>
<text transform="translate(835.9,475.4) rotate(45.0) scale(1.130,1)" font-size="15.0" text-anchor="middle" dy="0.36em">218</text>
<text transform="translate(820.1,495.5) rotate(65.0) scale(1.130,1)" font-size="15.0" text-anchor="middle" dy="0.36em">220</text>
<text transform="translate(1167.0,532.2) rotate(25.0) scale(1.130,1)" font-size="15.0" text-anchor="middle" dy="0.36em">217</text>
<text transform="translate(1115.4,540.2) rotate(20.0) scale(1.130,1)" font-size="15.0" text-anchor="middle" dy="0.36em">218</text>
<text transform="translate(1121.1,562.3) rotate(18.0) scale(1.130,1)" font-size="15.0" text-anchor="middle" dy="0.36em">219</text>
<text transform="translate(996.4,565.1) rotate(-10.0) scale(1.130,1)" font-size="15.0" text-anchor="middle" dy="0.36em">220</text>
<text transform="translate(963.5,589.5) rotate(-25.0) scale(1.130,1)" font-size="15.0" text-anchor="middle" dy="0.36em">221</text>
<text transform="translate(1098.2,598.1) rotate(8.0) scale(1.130,1)" font-size="15.0" text-anchor="middle" dy="0.36em">222</text>
<text transform="translate(1062.3,603.8) rotate(8.0) scale(1.130,1)" font-size="15.0" text-anchor="middle" dy="0.36em">223</text>
<polygon points="798.0,498.0 834.7,453.4 858.3,329.8 892.1,312.8 965.4,257.8 982.0,241.6 1048.5,214.0 1090.3,196.1 1121.1,188.2 1164.7,179.1 1196.6,172.0 1246.5,155.8 1308.1,155.4 1324.1,155.6 1366.6,161.9 1421.8,172.3 1467.5,200.4 1399.5,262.2 1389.9,308.8 1404.8,327.2 1422.3,364.1 1459.0,395.5 1486.7,428.0 1409.2,423.7 1369.0,430.8 1334.5,444.9 1308.1,469.0 1255.5,500.0 1196.6,548.0 1126.0,601.6 1106.6,620.0 1059.5,628.5 959.1,611.7 878.4,567.2" fill="none" stroke="#000" stroke-width="2.6" stroke-linejoin="miter"/>
<text transform="translate(871.4,708.2) scale(1.178,1)" font-size="20.0" font-weight="bold">Legend</text>
<line x1="871.6" y1="735.6" x2="919.3" y2="735.6" stroke="#62bf3c" stroke-width="1.5"/>
<text transform="translate(926.2,742.0) scale(1.047,1)" font-size="16.4">Contour</text>
<rect x="872.4" y="753.9" width="46.1" height="19.2" fill="#fff" stroke="#000" stroke-width="2"/>
<text transform="translate(925.7,769.9) scale(1.045,1)" font-size="16.4">Boundary</text>
<rect x="871.6" y="781.6" width="47.7" height="20.8" fill="#6f9a5a" stroke="#8a8378" stroke-width="0.8"/>
<text transform="translate(926.2,798.4) scale(1.044,1)" font-size="16.4">213.98 - 214.82</text>
<rect x="871.6" y="809.8" width="47.7" height="20.8" fill="#a9be78" stroke="#8a8378" stroke-width="0.8"/>
<text transform="translate(926.2,826.6) scale(1.043,1)" font-size="16.4">214.82 - 215.58</text>
<rect x="1055.3" y="725.2" width="47.5" height="20.8" fill="#e8e8a0" stroke="#8a8378" stroke-width="0.8"/>
<text transform="translate(1109.7,742.0) scale(1.044,1)" font-size="16.4">215.58 - 216.39</text>
<rect x="1055.3" y="753.1" width="47.5" height="20.8" fill="#f5e4a0" stroke="#8a8378" stroke-width="0.8"/>
<text transform="translate(1109.7,769.9) scale(1.043,1)" font-size="16.4">216.39 - 217.23</text>
<rect x="1055.3" y="781.6" width="47.5" height="20.8" fill="#f4d48c" stroke="#8a8378" stroke-width="0.8"/>
<text transform="translate(1109.7,798.4) scale(1.043,1)" font-size="16.4">217.23 - 218.15</text>
<rect x="1055.3" y="809.8" width="47.5" height="20.8" fill="#e8b880" stroke="#8a8378" stroke-width="0.8"/>
<text transform="translate(1109.7,826.6) scale(1.043,1)" font-size="16.4">218.15 - 219.08</text>
<rect x="1238.7" y="725.2" width="46.9" height="20.8" fill="#d8a07c" stroke="#8a8378" stroke-width="0.8"/>
<text transform="translate(1293.1,742.0) scale(1.043,1)" font-size="16.4">219.08 - 220.08</text>
<rect x="1238.7" y="753.1" width="46.9" height="20.8" fill="#d0928a" stroke="#8a8378" stroke-width="0.8"/>
<text transform="translate(1293.1,769.9) scale(1.042,1)" font-size="16.4">220.08 - 221.20</text>
<rect x="1238.7" y="781.6" width="46.9" height="20.8" fill="#e8bcc8" stroke="#8a8378" stroke-width="0.8"/>
<text transform="translate(1293.1,798.4) scale(1.044,1)" font-size="16.4">221.20 - 222.41</text>
<rect x="1238.7" y="809.8" width="46.9" height="20.8" fill="#fdeefb" stroke="#8a8378" stroke-width="0.8"/>
<text transform="translate(1293.1,826.6) scale(1.044,1)" font-size="16.4">222.41 - 224.21</text>
<rect x="872.9" y="846.3" width="193.6" height="7.8" fill="#000"/>
<rect x="885.6" y="847.6" width="11.0" height="5.2" fill="#fff"/>
<rect x="909.3" y="847.6" width="11.5" height="5.2" fill="#fff"/>
<rect x="969.7" y="847.6" width="47.8" height="5.2" fill="#fff"/>
<text transform="translate(1069.8,853.9) scale(1.140,1)" font-size="13.3">Km</text>
<text transform="translate(872.9,870.5) scale(1.160,1)" font-size="13.6" text-anchor="middle">0</text>
<text transform="translate(921.3,870.5) scale(1.160,1)" font-size="13.6" text-anchor="middle">0.2</text>
<text transform="translate(969.7,870.5) scale(1.160,1)" font-size="13.6" text-anchor="middle">0.4</text>
<text transform="translate(1018.1,870.5) scale(1.160,1)" font-size="13.6" text-anchor="middle">0.6</text>
<text transform="translate(1066.5,870.5) scale(1.160,1)" font-size="13.6" text-anchor="middle">0.8</text>
<text transform="translate(1146.0,918.0)" font-size="42.0" font-weight="bold" style="font-family:'Liberation Serif',serif;fill:#000">b</text>
</g>
<g id="panel-c">
<rect x="12.5" y="959.0" width="736.9" height="899.1" fill="#fff" stroke="#444" stroke-width="1.3"/>
<text transform="translate(226.8,993.4) scale(1.185,1)" font-size="17.5">Predicted Hydraulic Head (AMSL)</text>
<text transform="translate(705.4,990.5) scale(1.200,1)" font-size="11.6" text-anchor="middle" style="fill:#000">N</text>
<path d="M705.2,994.6L714.3,1022.3L705.0,1011.6Z" fill="#fff" stroke="#000" stroke-width="1.1" stroke-linejoin="miter"/>
<path d="M705.2,994.6L696.0,1022.3L705.0,1011.6Z" fill="#000" stroke="#000" stroke-width="0.6"/>
<text transform="translate(38.4,1106.8) scale(1.067,1)" font-size="17.0">Kakra</text>
<text transform="translate(641.6,1099.0) scale(1.083,1)" font-size="17.0">Karaundi</text>
<text transform="translate(45.8,1636.0) scale(1.052,1)" font-size="17.0">Shahpur</text>
<text transform="translate(628.2,1637.8) scale(1.065,1)" font-size="17.0">Chandpur</text>
<clipPath id="clip-c"><polygon points="34.8,1477.3 71.9,1430.6 95.7,1301.4 129.8,1283.6 203.7,1226.0 220.4,1209.1 287.5,1180.2 329.7,1161.5 360.8,1153.2 404.7,1143.7 436.9,1136.2 487.2,1119.3 549.4,1118.9 565.4,1119.1 608.3,1125.7 664.0,1136.6 710.1,1166.0 641.5,1230.7 631.9,1279.4 646.9,1298.7 664.6,1337.2 701.5,1370.1 729.5,1404.1 651.3,1399.6 610.8,1407.1 575.9,1421.8 549.4,1447.0 496.3,1479.4 436.9,1529.6 365.7,1585.7 346.1,1605.0 298.6,1613.8 197.4,1596.3 115.9,1549.8"/></clipPath>
<g clip-path="url(#clip-c)">
<polygon points="34.8,1477.3 71.9,1430.6 95.7,1301.4 129.8,1283.6 203.7,1226.0 220.4,1209.1 287.5,1180.2 329.7,1161.5 360.8,1153.2 404.7,1143.7 436.9,1136.2 487.2,1119.3 549.4,1118.9 565.4,1119.1 608.3,1125.7 664.0,1136.6 710.1,1166.0 641.5,1230.7 631.9,1279.4 646.9,1298.7 664.6,1337.2 701.5,1370.1 729.5,1404.1 651.3,1399.6 610.8,1407.1 575.9,1421.8 549.4,1447.0 496.3,1479.4 436.9,1529.6 365.7,1585.7 346.1,1605.0 298.6,1613.8 197.4,1596.3 115.9,1549.8" fill="#6f9a5a"/>
<path d="M30.3,1112.9L735.3,1112.9L735.3,1618.4L28.8,1618.4L28.8,1564.1L33.5,1549.4L38.6,1535.9L55.7,1496.9L57.8,1489.4L58.6,1481.9L58.1,1477.4L56.8,1472.9L52.5,1465.4L42.2,1454.9L28.8,1444.3L28.8,1112.9L30.3,1112.9Z" fill="#a9be78" fill-rule="evenodd"/>
<path d="M30.3,1112.9L735.3,1112.9L735.3,1449.5L728.1,1501.4L724.2,1522.4L719.9,1541.9L714.8,1561.4L708.8,1580.9L701.8,1600.4L694.5,1618.4L59.3,1618.4L58.9,1600.4L59.3,1583.9L60.8,1567.4L63.1,1552.4L66.1,1538.9L70.3,1525.4L74.0,1516.4L81.1,1502.9L83.4,1496.9L85.7,1486.4L86.1,1477.4L84.6,1468.4L82.3,1460.9L79.3,1454.9L74.8,1448.9L69.7,1444.4L60.2,1438.4L48.3,1429.7L28.8,1413.5L28.8,1112.9L30.3,1112.9Z" fill="#e8e8a0" fill-rule="evenodd"/>
<path d="M30.3,1112.9L735.3,1112.9L735.3,1378.8L718.9,1399.4L715.4,1405.4L712.7,1411.4L709.4,1423.4L703.4,1459.4L698.8,1481.9L692.7,1505.9L685.8,1528.5L677.2,1552.4L667.5,1574.9L656.2,1597.4L644.0,1618.4L90.3,1618.4L86.7,1598.9L84.7,1580.9L84.3,1564.4L85.5,1549.4L87.3,1538.9L89.6,1531.4L96.3,1519.4L104.8,1499.9L107.6,1486.4L107.7,1475.9L105.6,1466.9L101.8,1457.9L97.9,1450.4L92.2,1442.9L78.3,1430.0L64.2,1421.9L54.3,1414.4L43.1,1403.9L28.8,1388.4L28.8,1112.9L30.3,1112.9Z" fill="#f5e4a0" fill-rule="evenodd"/>
<path d="M30.3,1112.9L735.3,1112.9L735.3,1343.3L715.8,1364.9L700.8,1384.0L695.7,1391.9L692.6,1400.9L689.5,1426.4L683.8,1450.4L673.0,1483.4L660.3,1515.7L647.3,1543.4L633.3,1568.3L617.8,1591.4L600.3,1613.2L595.6,1618.4L126.0,1618.4L117.3,1597.2L112.8,1583.9L110.2,1571.9L109.5,1561.4L110.1,1555.4L111.6,1549.4L118.2,1532.9L126.3,1519.6L133.1,1498.4L134.0,1486.4L133.7,1477.4L131.9,1469.9L128.6,1459.4L125.9,1453.4L123.3,1449.4L115.3,1439.9L109.2,1433.9L102.3,1428.9L73.8,1411.7L67.7,1406.9L61.8,1401.4L54.6,1393.4L46.0,1382.9L28.8,1358.6L28.8,1112.9L30.3,1112.9Z" fill="#f4d48c" fill-rule="evenodd"/>
<path d="M30.3,1112.9L735.3,1112.9L735.3,1311.7L719.3,1331.9L698.3,1355.9L694.0,1361.9L690.3,1368.4L685.8,1378.8L683.1,1387.4L681.2,1396.4L678.7,1415.9L676.3,1424.9L672.3,1435.8L661.8,1459.9L646.8,1491.7L635.6,1513.4L624.2,1532.9L615.3,1546.5L606.3,1558.9L597.2,1570.4L586.8,1582.0L576.3,1592.5L565.8,1601.9L555.3,1610.3L543.8,1618.4L178.8,1618.4L181.0,1604.9L180.6,1600.4L179.2,1595.9L177.3,1592.8L173.5,1588.4L160.2,1576.4L154.5,1570.4L150.6,1564.4L149.3,1559.9L149.3,1556.9L150.2,1552.4L153.6,1543.4L159.7,1522.4L163.0,1493.9L162.8,1481.9L161.0,1466.9L159.5,1459.4L155.8,1450.4L151.3,1442.9L146.7,1436.9L138.2,1427.9L129.5,1420.4L122.5,1415.9L113.4,1411.4L102.5,1406.9L90.3,1402.9L76.8,1393.8L70.8,1388.3L61.8,1377.5L52.3,1363.4L41.1,1343.9L28.8,1320.3L28.8,1112.9L30.3,1112.9Z" fill="#e8b880" fill-rule="evenodd"/>
<path d="M30.3,1112.9L541.9,1112.9L556.8,1129.2L560.8,1132.4L574.8,1138.7L579.3,1139.5L585.3,1139.7L597.3,1138.9L601.8,1137.0L610.8,1132.0L613.9,1129.4L616.8,1125.8L622.5,1112.9L735.3,1112.9L735.3,1259.3L730.0,1265.9L725.5,1273.4L711.2,1306.4L704.1,1319.9L697.1,1330.4L683.3,1346.9L679.8,1352.2L677.8,1358.9L675.6,1369.4L671.6,1402.4L669.3,1409.1L664.8,1417.9L644.4,1448.9L615.3,1497.9L597.3,1523.7L583.8,1540.0L570.3,1554.1L556.8,1566.1L541.8,1577.4L523.8,1588.4L504.3,1597.5L484.8,1603.8L465.3,1607.5L454.8,1608.5L442.8,1608.6L432.3,1608.0L420.3,1606.5L400.8,1602.2L352.8,1588.8L345.3,1588.0L340.8,1589.0L337.8,1590.6L334.8,1593.4L332.5,1597.4L331.2,1601.9L330.8,1606.4L332.2,1618.4L213.1,1618.4L219.7,1600.4L220.3,1594.4L219.9,1585.4L218.5,1576.4L213.9,1558.4L212.5,1550.9L209.8,1511.9L206.7,1487.9L203.1,1472.9L197.8,1459.4L190.8,1447.9L186.1,1436.9L182.5,1430.9L166.8,1411.9L159.9,1405.4L147.8,1396.4L139.8,1392.2L123.3,1386.8L103.8,1383.1L97.8,1381.2L90.3,1376.1L83.2,1369.4L78.8,1363.4L73.8,1355.0L58.8,1325.2L47.4,1298.9L35.9,1268.9L28.8,1248.8L28.8,1112.9L30.3,1112.9ZM660.1,1202.9L658.8,1204.7L658.0,1208.9L658.0,1211.9L658.8,1214.9L660.3,1216.8L663.3,1218.7L666.3,1218.9L667.8,1218.2L669.3,1216.4L669.7,1213.4L667.8,1206.9L664.8,1202.9L661.8,1202.0L660.1,1202.9Z" fill="#d8a07c" fill-rule="evenodd"/>
<path d="M30.3,1112.9L507.5,1112.9L507.8,1120.4L508.8,1124.9L511.8,1131.0L513.3,1132.8L516.3,1135.0L531.3,1140.3L543.3,1143.0L552.3,1147.7L564.3,1151.7L570.3,1154.7L577.8,1156.0L586.8,1155.0L592.8,1155.2L598.8,1154.5L615.3,1148.2L618.3,1146.5L622.2,1142.9L625.8,1137.4L636.5,1124.9L643.6,1112.9L735.3,1112.9L735.3,1217.1L727.8,1219.3L721.8,1220.2L715.8,1220.3L709.8,1219.4L702.3,1216.7L694.8,1212.5L678.3,1201.0L670.6,1193.9L666.3,1191.5L661.8,1190.1L658.8,1190.1L654.4,1192.4L652.0,1195.4L649.1,1202.9L647.7,1214.9L648.6,1220.9L651.3,1228.0L655.8,1235.8L661.8,1243.2L679.4,1258.4L684.3,1263.6L688.0,1268.9L691.2,1276.4L693.1,1285.4L693.5,1294.4L692.6,1303.4L690.4,1312.4L685.3,1324.4L672.7,1342.4L667.4,1354.4L666.0,1361.9L663.4,1394.9L662.4,1399.4L660.8,1402.4L655.8,1407.9L642.3,1417.5L636.1,1423.4L629.8,1432.4L606.3,1472.6L589.8,1496.2L579.3,1509.1L568.8,1520.6L558.3,1530.7L546.9,1540.4L535.8,1548.5L525.3,1555.3L514.8,1561.2L504.3,1566.2L493.8,1570.5L481.8,1574.4L469.8,1577.4L457.8,1579.5L436.8,1581.1L415.8,1580.5L402.3,1579.0L385.8,1576.5L351.3,1568.7L343.8,1568.5L336.3,1570.0L331.8,1572.0L327.3,1575.4L324.1,1579.4L321.6,1585.4L320.9,1589.9L320.9,1597.4L322.9,1618.4L226.7,1618.4L229.1,1603.4L234.5,1579.4L238.8,1568.3L248.4,1550.9L252.6,1541.9L255.1,1534.4L257.3,1523.9L258.8,1511.9L258.5,1502.9L256.0,1489.4L251.3,1474.4L246.7,1463.9L240.2,1451.9L221.4,1423.4L197.3,1393.4L180.3,1376.2L172.8,1369.1L150.3,1350.0L127.9,1336.4L117.3,1331.8L106.8,1326.4L97.8,1323.4L93.3,1321.2L88.4,1316.9L82.8,1309.3L78.3,1301.2L73.8,1291.6L65.2,1268.9L55.8,1239.0L43.8,1195.8L28.8,1138.6L28.8,1112.9L30.3,1112.9Z" fill="#d0928a" fill-rule="evenodd"/>
<path d="M67.8,1112.9L491.3,1112.9L493.3,1121.9L495.1,1133.9L499.3,1144.4L501.3,1147.7L504.3,1151.3L511.8,1157.8L516.3,1160.6L537.3,1169.4L550.8,1172.8L561.3,1177.1L568.8,1179.1L580.8,1181.2L586.8,1181.7L592.8,1181.3L610.8,1178.5L621.3,1178.5L628.8,1180.1L631.8,1181.7L634.8,1184.2L637.6,1189.4L638.7,1195.4L638.5,1201.4L636.3,1211.9L635.9,1217.9L637.9,1229.9L638.5,1240.4L639.6,1246.4L641.5,1252.4L644.9,1259.9L660.1,1286.9L664.8,1297.4L666.6,1303.4L667.7,1309.4L667.8,1314.3L667.1,1318.4L665.1,1321.4L663.3,1322.6L651.3,1326.6L637.8,1335.6L626.4,1345.4L618.4,1354.4L614.0,1360.4L608.4,1370.9L604.6,1381.4L602.9,1390.4L601.5,1408.4L599.5,1421.9L596.2,1433.9L591.8,1444.4L583.8,1458.4L571.8,1475.1L558.3,1490.6L544.8,1503.4L529.8,1515.0L511.8,1525.9L493.8,1534.6L473.9,1541.9L454.8,1546.6L433.8,1549.3L412.8,1549.6L406.8,1549.0L400.8,1547.4L388.2,1541.9L368.8,1531.4L352.8,1521.7L343.8,1517.7L336.5,1511.9L330.3,1504.4L315.8,1480.4L306.3,1467.9L290.7,1432.4L279.3,1411.9L267.6,1394.9L253.8,1378.6L234.3,1358.0L219.3,1343.5L207.3,1332.9L177.3,1308.0L163.8,1298.0L153.3,1291.4L129.3,1280.9L121.8,1275.1L115.8,1268.5L109.8,1259.4L104.1,1247.9L98.8,1234.4L93.3,1217.9L81.3,1173.3L67.8,1112.9ZM672.3,1114.2L673.3,1112.9L735.3,1112.9L735.3,1179.8L727.9,1183.4L721.8,1185.5L714.3,1187.2L706.8,1187.7L699.3,1187.1L693.3,1185.6L688.3,1183.4L684.5,1180.4L681.1,1175.9L673.0,1160.9L662.0,1147.4L659.7,1141.4L659.6,1136.9L661.8,1130.9L666.1,1123.4L672.3,1114.2ZM271.8,1576.4L279.3,1575.7L285.3,1576.7L295.8,1581.1L301.8,1585.4L306.3,1590.8L310.8,1599.9L313.7,1610.9L314.4,1618.4L240.5,1618.4L241.2,1609.4L242.4,1603.4L245.5,1594.4L248.8,1588.4L252.3,1584.9L256.8,1581.9L264.3,1578.6L271.8,1576.4Z" fill="#e8bcc8" fill-rule="evenodd"/>
<path d="M108.3,1112.9L477.3,1112.9L480.5,1120.4L481.5,1126.4L480.4,1132.4L477.8,1139.9L476.5,1145.9L475.7,1153.4L475.9,1157.9L477.3,1163.5L479.4,1168.4L482.9,1174.4L486.3,1178.6L500.7,1192.4L525.3,1210.4L551.0,1225.4L572.9,1235.9L585.3,1243.5L598.8,1249.3L606.6,1253.9L613.8,1260.0L616.8,1265.3L618.5,1270.4L618.3,1276.5L616.8,1280.8L615.3,1282.9L607.8,1290.5L592.8,1300.3L576.3,1316.5L568.8,1327.4L561.3,1341.9L557.2,1355.9L554.6,1367.9L554.0,1375.4L554.2,1384.4L555.0,1391.9L556.7,1399.4L560.9,1411.4L566.1,1421.9L566.8,1424.9L566.7,1427.9L564.6,1433.9L559.7,1442.9L549.4,1459.4L541.7,1469.9L531.6,1480.4L520.8,1488.5L508.8,1495.0L493.8,1500.6L468.3,1507.2L453.3,1509.6L448.8,1509.3L444.3,1508.1L439.5,1505.9L435.0,1502.9L421.8,1489.2L402.0,1463.9L393.0,1453.4L354.3,1413.8L343.8,1401.1L320.3,1370.9L302.2,1349.9L277.3,1324.4L263.5,1310.9L235.2,1285.4L216.3,1270.4L187.7,1246.4L167.2,1232.9L159.3,1227.1L152.4,1220.9L146.9,1214.9L141.2,1207.4L135.7,1198.4L130.8,1188.7L126.1,1177.4L121.4,1163.9L116.9,1148.9L111.5,1127.9L108.3,1112.9ZM271.8,1592.5L279.3,1591.7L286.8,1592.3L292.8,1593.9L298.8,1597.1L303.3,1601.4L306.2,1606.4L308.1,1612.4L308.0,1618.4L252.5,1618.4L253.5,1609.4L256.8,1601.9L259.3,1598.9L262.8,1596.1L267.3,1593.9L271.8,1592.5Z" fill="#fdeefb" fill-rule="evenodd"/>
<path class="cl" d="M60.0,1501.1L62.7,1493.9L64.1,1487.9L64.6,1481.9L64.1,1475.9L62.4,1469.9L60.1,1465.4L56.7,1460.9L51.0,1455.2M70.7,1510.3L75.8,1499.9L78.2,1492.4L79.7,1483.4L79.6,1474.4L77.5,1465.4L73.8,1457.2L68.0,1450.4L60.2,1444.6M730.9,1404.0L730.0,1405.4M82.3,1520.3L89.3,1508.9L94.0,1496.9L96.3,1484.9L96.4,1478.9L95.8,1472.9L94.0,1465.4L91.9,1459.4L88.9,1453.4L85.0,1447.4L81.4,1442.9L78.0,1439.9L73.8,1436.8L68.1,1433.6M717.6,1387.7L710.2,1397.9L706.6,1403.9M97.7,1534.2L110.4,1508.9L115.0,1493.9L116.1,1487.9L116.4,1481.9L114.6,1468.4L111.0,1459.4L104.9,1448.9L100.7,1442.9L91.4,1433.9L79.8,1424.9L72.3,1420.5M701.0,1368.0L694.7,1376.9L689.7,1385.9L687.1,1393.4L685.5,1402.4M122.8,1554.9L123.6,1550.9L126.8,1541.9L129.0,1537.4L134.7,1528.4L140.9,1514.9L143.7,1505.9L146.0,1492.4L146.5,1483.4L145.8,1477.1L142.2,1460.9L139.8,1454.6L136.5,1448.9L128.7,1438.4L120.2,1429.4L114.3,1424.9L106.8,1420.4L94.8,1413.8L84.3,1409.5L75.3,1404.1M560.5,1118.9L564.3,1122.4L577.0,1130.9L580.8,1132.7L583.8,1133.4L589.8,1133.3L594.3,1132.3L607.8,1124.9M684.1,1352.9L681.3,1359.6L678.5,1370.9L676.1,1384.4L674.2,1401.3M357.2,1596.0L348.3,1593.3L343.8,1593.5L340.8,1594.6L337.5,1597.4L335.7,1600.4L334.6,1603.4L334.2,1607.9M215.3,1600.4L215.9,1597.4L215.7,1591.4L213.7,1580.9L211.2,1574.9L203.2,1559.9L199.8,1547.9L198.2,1537.4L194.0,1486.4L191.3,1471.4L187.5,1459.4L177.1,1436.9L174.1,1432.4L157.8,1413.8L153.3,1409.8L142.8,1402.4L136.8,1399.0L129.3,1396.3L115.8,1392.6L104.6,1390.4L99.3,1388.9L90.3,1384.1L81.3,1376.6M501.7,1118.9L501.9,1123.4L505.3,1135.4L507.4,1138.4L510.4,1141.4L514.8,1145.5L517.8,1147.5L528.3,1150.0L540.3,1154.7L547.8,1155.6L553.8,1157.0L564.3,1161.9L583.8,1164.7L588.3,1164.5L604.8,1160.9L613.8,1159.9L620.2,1157.9L628.8,1153.9L631.8,1151.9L634.8,1148.6L643.1,1131.6M679.1,1196.1L672.3,1190.3L669.3,1188.4L663.3,1185.6L660.3,1184.9L657.3,1185.1L654.3,1186.4L652.6,1187.9L651.3,1189.4L648.9,1193.9L645.9,1204.4L644.6,1216.4L645.5,1222.4L646.8,1226.9M668.5,1340.1L664.5,1346.9L660.8,1355.9L660.0,1361.9L658.8,1387.4L657.7,1393.4L655.8,1397.3L654.3,1398.9L651.2,1400.9M644.2,1402.0L640.0,1400.9L634.8,1398.8L631.8,1398.6L630.3,1399.1L628.8,1400.4L627.3,1402.9L626.7,1405.4M389.0,1568.7L370.8,1565.0L355.8,1560.6L345.3,1559.1L339.3,1559.3L333.3,1560.6L325.0,1564.4L321.3,1567.6L319.2,1570.4L317.1,1574.9L316.0,1579.4L315.9,1588.4L319.3,1610.9M233.5,1603.4L236.5,1591.4L241.1,1579.4L245.8,1571.9L259.8,1556.5L265.8,1547.9L268.6,1541.9L272.1,1531.4L274.0,1523.9L274.7,1519.4L275.3,1510.4L274.3,1496.9L272.5,1487.9L269.2,1475.9L263.2,1459.4L257.9,1448.9L250.8,1436.9L231.7,1411.4L204.3,1379.6L176.7,1352.9L164.2,1342.4L151.8,1333.0L142.3,1327.4L126.3,1319.4L105.3,1310.9L99.1,1306.4L94.8,1301.9M467.0,1124.9L465.3,1129.7L457.1,1141.4L455.4,1144.4L452.3,1153.4L451.7,1159.4L452.4,1165.4L454.1,1171.4L456.6,1177.4L471.5,1199.9L476.2,1205.9L491.5,1220.9L504.5,1231.4L511.8,1237.9L523.6,1250.9L538.1,1270.4L539.5,1273.4L540.9,1279.4L540.9,1294.4L539.1,1309.4L534.3,1326.2L531.6,1337.9L524.5,1355.9L517.4,1384.4L516.0,1400.9L516.4,1414.4L520.1,1435.4L524.3,1448.9L524.5,1453.4L523.7,1457.9L522.3,1461.0L519.3,1465.0L515.8,1468.4M512.4,1470.8L511.5,1471.4M508.9,1472.8L501.3,1475.6L498.3,1476.1L492.3,1476.3L486.3,1475.2L478.8,1472.7L471.7,1468.4L467.3,1463.9L459.3,1452.6L456.0,1448.9L450.3,1444.3L444.3,1441.0L438.3,1436.6L421.8,1420.4L406.8,1407.8L391.8,1393.0L370.2,1373.9L331.2,1334.9L318.3,1324.4L297.3,1302.6L279.3,1288.2L259.3,1268.9L232.2,1247.9L204.2,1224.0M263.8,1607.9L268.1,1603.4L271.8,1601.2L277.8,1599.4L280.8,1599.0L286.8,1599.1L292.9,1600.4L298.8,1603.6L301.8,1607.0L303.6,1610.9L304.2,1613.9"/>
</g>
<text transform="translate(588.1,1115.2) rotate(10.0) scale(1.130,1)" font-size="15.0" text-anchor="middle" dy="0.36em">225.25</text>
<text transform="translate(553.7,1137.2) rotate(15.0) scale(1.130,1)" font-size="15.0" text-anchor="middle" dy="0.36em">225.5</text>
<text transform="translate(635.4,1203.2) rotate(-80.0) scale(1.130,1)" font-size="15.0" text-anchor="middle" dy="0.36em">225.5</text>
<text transform="translate(107.4,1407.6) rotate(40.0) scale(1.130,1)" font-size="15.0" text-anchor="middle" dy="0.36em">225</text>
<text transform="translate(91.7,1447.7) rotate(52.0) scale(1.130,1)" font-size="15.0" text-anchor="middle" dy="0.36em">224.5</text>
<text transform="translate(68.7,1462.1) rotate(62.0) scale(1.130,1)" font-size="15.0" text-anchor="middle" dy="0.36em">224</text>
<text transform="translate(96.0,1507.9) rotate(-68.0) scale(1.130,1)" font-size="15.0" text-anchor="middle" dy="0.36em">224.75</text>
<text transform="translate(210.6,1522.2) rotate(85.0) scale(1.130,1)" font-size="15.0" text-anchor="middle" dy="0.36em">225.25</text>
<text transform="translate(259.3,1430.5) rotate(55.0) scale(1.130,1)" font-size="15.0" text-anchor="middle" dy="0.36em">225.5</text>
<text transform="translate(371.1,1553.8) rotate(20.0) scale(1.130,1)" font-size="15.0" text-anchor="middle" dy="0.36em">225.5</text>
<text transform="translate(333.9,1583.9) rotate(-33.0) scale(1.130,1)" font-size="15.0" text-anchor="middle" dy="0.36em">225.25</text>
<text transform="translate(270.8,1592.5) rotate(-22.0) scale(1.130,1)" font-size="15.0" text-anchor="middle" dy="0.36em">225.75</text>
<text transform="translate(453.4,1430.5) rotate(45.0) scale(1.130,1)" font-size="15.0" text-anchor="middle" dy="0.36em">225.75</text>
<text transform="translate(515.0,1341.1) rotate(-75.0) scale(1.130,1)" font-size="15.0" text-anchor="middle" dy="0.36em">225.75</text>
<text transform="translate(631.1,1384.7) rotate(-5.0) scale(1.130,1)" font-size="15.0" text-anchor="middle" dy="0.36em">225.5</text>
<text transform="translate(678.4,1377.5) rotate(-68.0) scale(1.130,1)" font-size="15.0" text-anchor="middle" dy="0.36em">225.25</text>
<text transform="translate(701.3,1384.7) rotate(-58.0) scale(1.130,1)" font-size="15.0" text-anchor="middle" dy="0.36em">225</text>
<polygon points="34.8,1477.3 71.9,1430.6 95.7,1301.4 129.8,1283.6 203.7,1226.0 220.4,1209.1 287.5,1180.2 329.7,1161.5 360.8,1153.2 404.7,1143.7 436.9,1136.2 487.2,1119.3 549.4,1118.9 565.4,1119.1 608.3,1125.7 664.0,1136.6 710.1,1166.0 641.5,1230.7 631.9,1279.4 646.9,1298.7 664.6,1337.2 701.5,1370.1 729.5,1404.1 651.3,1399.6 610.8,1407.1 575.9,1421.8 549.4,1447.0 496.3,1479.4 436.9,1529.6 365.7,1585.7 346.1,1605.0 298.6,1613.8 197.4,1596.3 115.9,1549.8" fill="none" stroke="#000" stroke-width="2.6" stroke-linejoin="miter"/>
<text transform="translate(87.2,1677.2) scale(1.207,1)" font-size="21.0" font-weight="bold">Legend</text>
<line x1="87.3" y1="1708.0" x2="138.3" y2="1708.0" stroke="#62bf3c" stroke-width="1.5"/>
<text transform="translate(146.3,1714.6) scale(1.102,1)" font-size="17.0">Contour</text>
<rect x="88.1" y="1728.6" width="49.4" height="21.4" fill="#fff" stroke="#000" stroke-width="2"/>
<text transform="translate(145.7,1745.9) scale(1.106,1)" font-size="17.0">Boundary</text>
<rect x="87.3" y="1759.7" width="51.0" height="23.0" fill="#6f9a5a" stroke="#8a8378" stroke-width="0.8"/>
<text transform="translate(146.3,1777.8) scale(1.090,1)" font-size="17.0">223.25 - 223.90</text>
<rect x="87.3" y="1791.6" width="51.0" height="23.0" fill="#a9be78" stroke="#8a8378" stroke-width="0.8"/>
<text transform="translate(146.3,1809.7) scale(1.091,1)" font-size="17.0">223.90 - 224.35</text>
<rect x="285.3" y="1696.5" width="50.3" height="23.0" fill="#e8e8a0" stroke="#8a8378" stroke-width="0.8"/>
<text transform="translate(343.6,1714.6) scale(1.091,1)" font-size="17.0">224.35 - 224.65</text>
<rect x="285.3" y="1727.8" width="50.3" height="23.0" fill="#f5e4a0" stroke="#8a8378" stroke-width="0.8"/>
<text transform="translate(343.6,1745.9) scale(1.090,1)" font-size="17.0">224.65 - 224.90</text>
<rect x="285.3" y="1759.7" width="50.3" height="23.0" fill="#f4d48c" stroke="#8a8378" stroke-width="0.8"/>
<text transform="translate(343.6,1777.8) scale(1.090,1)" font-size="17.0">224.90 - 225.10</text>
<rect x="285.3" y="1791.6" width="50.3" height="23.0" fill="#e8b880" stroke="#8a8378" stroke-width="0.8"/>
<text transform="translate(343.6,1809.7) scale(1.090,1)" font-size="17.0">225.10 - 225.30</text>
<rect x="481.6" y="1696.5" width="51.4" height="23.0" fill="#d8a07c" stroke="#8a8378" stroke-width="0.8"/>
<text transform="translate(540.7,1714.6) scale(1.091,1)" font-size="17.0">225.30 - 225.45</text>
<rect x="481.6" y="1727.8" width="51.4" height="23.0" fill="#d0928a" stroke="#8a8378" stroke-width="0.8"/>
<text transform="translate(540.7,1745.9) scale(1.090,1)" font-size="17.0">225.45 - 225.60</text>
<rect x="481.6" y="1759.7" width="51.4" height="23.0" fill="#e8bcc8" stroke="#8a8378" stroke-width="0.8"/>
<text transform="translate(540.7,1777.8) scale(1.090,1)" font-size="17.0">225.60 - 225.70</text>
<rect x="481.6" y="1791.6" width="51.4" height="23.0" fill="#fdeefb" stroke="#8a8378" stroke-width="0.8"/>
<text transform="translate(540.7,1809.7) scale(1.091,1)" font-size="17.0">225.70 - 225.85</text>
<rect x="89.9" y="1828.2" width="196.0" height="7.8" fill="#000"/>
<rect x="102.7" y="1829.5" width="11.2" height="5.2" fill="#fff"/>
<rect x="126.7" y="1829.5" width="11.7" height="5.2" fill="#fff"/>
<rect x="187.9" y="1829.5" width="48.4" height="5.2" fill="#fff"/>
<text transform="translate(288.6,1835.8) scale(1.140,1)" font-size="13.5">Km</text>
<text transform="translate(89.9,1852.1) scale(1.160,1)" font-size="13.8" text-anchor="middle">0</text>
<text transform="translate(138.9,1852.1) scale(1.160,1)" font-size="13.8" text-anchor="middle">0.2</text>
<text transform="translate(187.9,1852.1) scale(1.160,1)" font-size="13.8" text-anchor="middle">0.4</text>
<text transform="translate(236.9,1852.1) scale(1.160,1)" font-size="13.8" text-anchor="middle">0.6</text>
<text transform="translate(285.9,1852.1) scale(1.160,1)" font-size="13.8" text-anchor="middle">0.8</text>
<text transform="translate(342.3,1908.8)" font-size="42.0" font-weight="bold" style="font-family:'Liberation Serif',serif;fill:#000">c</text>
</g>
<g id="panel-d">
<rect x="798.8" y="962.9" width="726.5" height="895.2" fill="#fff" stroke="#444" stroke-width="1.3"/>
<text transform="translate(1007.7,992.9) scale(1.173,1)" font-size="17.5">Predicted Hyraulic Head (AMSL)</text>
<text transform="translate(1478.0,991.7) scale(1.200,1)" font-size="10.5" text-anchor="middle" style="fill:#000">N</text>
<path d="M1477.8,995.6L1485.9,1020.5L1477.6,1011.6Z" fill="#fff" stroke="#000" stroke-width="1.1" stroke-linejoin="miter"/>
<path d="M1477.8,995.6L1469.4,1020.7L1477.6,1011.6Z" fill="#000" stroke="#000" stroke-width="0.6"/>
<text transform="translate(821.5,1111.5) scale(1.067,1)" font-size="17.0">Kakra</text>
<text transform="translate(1416.8,1102.9) scale(1.068,1)" font-size="17.0">Karaundi</text>
<text transform="translate(822.0,1630.8) scale(1.052,1)" font-size="17.0">Shahpur</text>
<text transform="translate(1407.3,1638.3) scale(1.058,1)" font-size="17.0">Chandpur</text>
<clipPath id="clip-d"><polygon points="817.3,1474.1 854.0,1427.2 877.6,1297.4 911.4,1279.5 984.7,1221.7 1001.2,1204.7 1067.7,1175.7 1109.6,1156.9 1140.4,1148.6 1183.9,1139.0 1215.8,1131.5 1265.7,1114.5 1327.3,1114.1 1343.2,1114.3 1385.7,1120.9 1440.9,1131.8 1486.6,1161.4 1418.6,1226.3 1409.1,1275.3 1424.0,1294.7 1441.5,1333.4 1478.1,1366.4 1505.8,1400.6 1428.3,1396.0 1388.2,1403.5 1353.6,1418.3 1327.3,1443.6 1274.7,1476.2 1215.8,1526.6 1145.3,1583.0 1125.8,1602.4 1078.8,1611.3 978.4,1593.6 897.7,1546.9"/></clipPath>
<g clip-path="url(#clip-d)">
<polygon points="817.3,1474.1 854.0,1427.2 877.6,1297.4 911.4,1279.5 984.7,1221.7 1001.2,1204.7 1067.7,1175.7 1109.6,1156.9 1140.4,1148.6 1183.9,1139.0 1215.8,1131.5 1265.7,1114.5 1327.3,1114.1 1343.2,1114.3 1385.7,1120.9 1440.9,1131.8 1486.6,1161.4 1418.6,1226.3 1409.1,1275.3 1424.0,1294.7 1441.5,1333.4 1478.1,1366.4 1505.8,1400.6 1428.3,1396.0 1388.2,1403.5 1353.6,1418.3 1327.3,1443.6 1274.7,1476.2 1215.8,1526.6 1145.3,1583.0 1125.8,1602.4 1078.8,1611.3 978.4,1593.6 897.7,1546.9" fill="#6f9a5a"/>
<path d="M812.8,1108.1L1289.1,1108.1L1306.3,1110.6L1330.3,1111.4L1340.8,1110.6L1354.3,1108.1L1511.8,1108.1L1511.8,1379.5L1501.3,1394.1L1498.3,1399.6L1472.8,1469.9L1465.3,1488.5L1457.6,1505.6L1450.3,1520.2L1442.6,1534.1L1434.1,1547.6L1425.8,1559.6L1412.8,1575.8L1398.5,1591.1L1383.6,1604.6L1367.7,1616.6L1136.9,1616.6L1126.3,1610.3L1122.2,1609.1L1118.8,1608.7L1114.3,1609.3L1109.8,1610.8L1100.5,1616.6L1021.3,1616.6L1001.8,1607.7L995.8,1606.1L989.8,1605.6L985.3,1606.2L980.8,1607.7L962.4,1616.6L883.5,1616.6L875.8,1612.4L869.8,1608.3L863.8,1603.5L857.8,1597.7L852.2,1591.1L848.0,1585.1L843.7,1577.6L840.3,1570.1L835.8,1555.1L833.6,1540.1L833.7,1525.1L835.9,1508.6L841.8,1486.1L842.1,1478.6L841.1,1474.1L838.0,1468.1L833.4,1463.6L826.9,1459.1L811.3,1450.2L811.3,1108.1L812.8,1108.1Z" fill="#a9be78" fill-rule="evenodd"/>
<path d="M812.8,1108.1L1251.1,1108.1L1256.5,1114.1L1262.0,1118.6L1268.8,1122.6L1274.8,1124.8L1300.3,1128.6L1328.8,1129.8L1358.8,1127.3L1372.3,1123.9L1378.3,1121.3L1385.2,1117.1L1390.3,1112.8L1394.3,1108.1L1511.8,1108.1L1511.8,1342.2L1506.5,1358.6L1500.3,1373.6L1493.8,1386.5L1482.6,1405.1L1477.8,1414.1L1447.3,1480.8L1433.2,1507.1L1418.8,1529.8L1406.8,1545.9L1395.1,1559.6L1382.8,1572.0L1369.5,1583.6L1355.8,1593.7L1340.8,1603.1L1326.2,1610.6L1311.6,1616.6L1178.0,1616.6L1160.8,1608.9L1136.8,1594.8L1127.8,1591.3L1120.3,1589.9L1108.3,1590.7L1100.8,1592.3L1093.3,1595.6L1082.8,1602.6L1076.8,1604.0L1071.8,1603.1L1055.7,1597.1L1030.3,1593.6L1004.8,1585.7L995.8,1584.1L986.8,1584.1L982.3,1584.8L977.8,1586.3L964.3,1593.0L952.3,1597.3L940.3,1600.1L929.8,1601.1L917.8,1600.4L905.8,1597.7L895.3,1593.6L884.8,1587.4L874.9,1579.1L866.2,1568.6L859.4,1556.6L854.6,1543.1L852.2,1531.1L851.1,1517.6L851.6,1501.1L854.5,1481.6L854.1,1474.1L851.9,1466.6L849.3,1462.1L845.8,1458.4L811.3,1432.8L811.3,1108.1L812.8,1108.1Z" fill="#e8e8a0" fill-rule="evenodd"/>
<path d="M812.8,1108.1L1235.1,1108.1L1244.8,1120.2L1249.3,1125.0L1256.8,1130.4L1265.8,1135.2L1274.8,1138.4L1291.3,1143.2L1312.3,1143.9L1327.3,1145.7L1345.3,1142.9L1361.8,1142.3L1373.8,1138.9L1385.0,1136.6L1388.8,1135.2L1396.3,1130.5L1401.3,1126.1L1411.0,1108.1L1511.8,1108.1L1511.8,1267.2L1503.0,1297.1L1498.9,1313.6L1496.6,1327.1L1493.7,1355.6L1492.1,1363.1L1489.7,1370.6L1486.0,1378.1L1478.3,1388.6L1472.2,1399.1L1447.3,1448.7L1427.8,1484.8L1412.8,1508.9L1397.5,1529.6L1387.3,1541.4L1376.8,1552.2L1365.4,1562.6L1354.0,1571.6L1340.8,1580.6L1328.8,1587.5L1316.8,1593.4L1303.3,1598.8L1285.3,1604.3L1267.3,1607.8L1247.8,1609.6L1228.3,1609.4L1204.3,1606.8L1181.8,1601.8L1162.3,1595.1L1141.3,1584.3L1130.8,1581.0L1121.8,1579.4L1108.3,1578.5L1090.3,1579.0L1079.8,1578.7L1055.8,1575.3L1037.8,1573.7L1018.3,1570.9L994.3,1569.3L986.8,1569.6L979.3,1570.9L953.8,1579.6L940.3,1582.4L934.3,1582.6L926.8,1582.1L919.3,1580.6L911.8,1578.2L904.3,1574.8L898.6,1571.6L887.8,1563.1L878.8,1552.8L874.6,1546.1L871.8,1540.1L868.1,1528.1L866.2,1513.1L866.4,1502.6L868.6,1483.1L868.4,1474.1L866.9,1466.6L863.3,1459.1L857.8,1452.8L853.7,1450.1L841.3,1443.3L811.3,1418.1L811.3,1108.1L812.8,1108.1Z" fill="#f5e4a0" fill-rule="evenodd"/>
<path d="M812.8,1108.1L1220.7,1108.1L1243.3,1133.7L1250.8,1141.2L1256.8,1145.3L1274.8,1154.7L1285.3,1158.1L1301.8,1161.6L1315.3,1161.4L1336.3,1163.4L1349.8,1161.1L1370.8,1160.2L1391.8,1154.8L1399.3,1151.2L1402.3,1148.7L1404.7,1145.6L1415.5,1120.1L1418.8,1114.1L1423.1,1108.1L1511.8,1108.1L1511.8,1180.8L1498.7,1222.1L1489.0,1267.1L1485.2,1282.1L1481.0,1295.6L1473.0,1318.1L1470.8,1327.1L1470.7,1331.6L1471.6,1336.1L1477.3,1349.1L1479.0,1355.6L1479.2,1361.6L1477.8,1367.6L1475.2,1372.1L1466.7,1381.1L1463.5,1385.6L1461.3,1390.1L1455.4,1406.6L1450.5,1417.1L1418.8,1473.0L1403.6,1496.6L1387.3,1517.8L1376.8,1529.6L1366.3,1540.0L1355.8,1549.2L1343.8,1558.4L1331.8,1566.4L1319.8,1573.1L1307.3,1579.1L1294.3,1584.0L1276.3,1589.1L1256.8,1592.3L1237.3,1593.5L1217.8,1592.8L1198.3,1590.5L1180.3,1586.8L1166.8,1582.5L1151.8,1575.5L1132.3,1568.4L1085.8,1557.3L1072.3,1554.9L1022.8,1552.2L983.8,1551.0L974.8,1551.4L965.8,1552.6L946.3,1557.7L940.3,1558.7L931.3,1558.2L920.8,1555.1L910.3,1549.8L901.0,1543.1L893.9,1535.6L889.6,1528.1L889.0,1522.1L893.2,1502.6L893.8,1496.6L893.6,1490.6L891.2,1474.1L889.5,1466.6L886.3,1458.1L882.2,1451.6L875.8,1444.2L869.8,1440.1L863.8,1437.5L850.3,1434.2L842.8,1430.2L829.3,1419.5L811.3,1403.6L811.3,1108.1L812.8,1108.1Z" fill="#f4d48c" fill-rule="evenodd"/>
<path d="M812.8,1108.1L1203.4,1108.1L1223.8,1128.5L1228.8,1135.1L1237.2,1148.6L1239.7,1151.6L1258.3,1167.0L1261.3,1168.8L1276.3,1173.7L1283.8,1177.8L1288.3,1179.3L1312.3,1180.4L1324.3,1183.8L1343.8,1182.6L1357.3,1184.4L1372.3,1181.2L1382.8,1181.4L1385.8,1180.9L1401.6,1175.6L1408.3,1170.9L1410.9,1168.1L1412.6,1165.1L1415.6,1156.1L1416.4,1151.6L1416.6,1139.6L1417.6,1135.1L1419.7,1129.1L1422.9,1123.1L1426.3,1118.6L1430.8,1114.2L1435.3,1110.8L1440.2,1108.1L1475.9,1108.1L1480.2,1111.1L1483.3,1114.1L1486.7,1118.6L1489.0,1123.1L1490.6,1127.6L1491.7,1133.6L1491.6,1144.1L1489.9,1153.1L1487.1,1162.1L1477.9,1186.1L1468.6,1207.1L1466.4,1214.6L1465.6,1223.6L1467.0,1246.1L1467.0,1258.1L1465.8,1270.1L1463.0,1282.1L1459.7,1291.1L1455.9,1298.6L1451.0,1306.1L1438.3,1322.5L1436.0,1327.1L1434.4,1333.1L1433.7,1342.1L1435.2,1352.6L1437.6,1360.1L1444.0,1373.6L1445.6,1381.1L1446.1,1388.6L1445.7,1394.6L1444.7,1399.1L1442.8,1403.9L1438.3,1412.2L1409.3,1460.6L1397.8,1478.7L1381.3,1500.6L1363.3,1520.1L1352.8,1529.8L1340.8,1539.5L1329.4,1547.6L1318.3,1554.3L1306.3,1560.5L1294.3,1565.6L1282.3,1569.7L1270.3,1572.8L1252.3,1575.7L1234.3,1576.7L1214.8,1575.9L1193.8,1573.1L1178.8,1569.1L1160.8,1560.5L1147.3,1556.0L1123.3,1546.3L1093.3,1537.5L1067.8,1532.5L1040.8,1530.5L991.3,1523.2L964.3,1517.2L953.8,1514.0L946.3,1510.9L940.3,1507.7L934.3,1503.4L928.6,1498.1L923.8,1492.1L916.3,1479.0L904.2,1451.6L898.2,1442.6L891.2,1435.1L883.5,1429.1L875.2,1424.6L869.8,1422.7L853.3,1419.2L847.3,1417.0L842.8,1414.7L836.8,1410.7L829.3,1404.5L811.3,1386.5L811.3,1108.1L812.8,1108.1Z" fill="#e8b880" fill-rule="evenodd"/>
<path d="M812.8,1108.1L1180.1,1108.1L1194.4,1121.6L1203.9,1132.1L1210.0,1141.1L1217.8,1157.4L1224.5,1165.1L1243.1,1183.1L1249.3,1187.0L1262.0,1193.6L1271.8,1199.9L1277.8,1202.0L1289.8,1205.1L1300.3,1209.9L1306.3,1211.0L1313.8,1211.5L1331.8,1211.3L1343.8,1214.7L1351.3,1215.6L1361.8,1215.1L1375.3,1212.4L1379.8,1212.1L1405.3,1213.2L1411.3,1215.3L1418.8,1221.4L1427.0,1229.6L1433.1,1237.1L1436.9,1243.1L1440.2,1250.6L1442.3,1258.1L1443.3,1265.6L1443.2,1274.6L1441.7,1283.6L1439.2,1291.1L1435.8,1298.6L1426.3,1316.0L1424.3,1321.1L1422.9,1327.1L1420.9,1340.6L1420.3,1354.1L1422.1,1384.1L1421.8,1390.1L1420.8,1394.6L1417.4,1403.6L1403.8,1433.6L1391.8,1456.3L1378.3,1476.2L1361.8,1495.4L1343.0,1513.1L1322.8,1528.4L1303.3,1540.1L1283.8,1548.6L1273.3,1552.0L1264.3,1554.1L1253.8,1555.9L1243.3,1556.9L1231.3,1557.0L1219.3,1556.1L1186.3,1550.3L1180.3,1547.9L1168.3,1541.9L1148.8,1536.4L1133.8,1529.3L1117.3,1524.1L1105.3,1519.3L1076.8,1511.0L1044.9,1502.6L1020.0,1495.1L986.8,1483.9L979.3,1480.8L972.2,1477.1L965.8,1472.7L959.8,1467.7L926.7,1436.6L916.6,1429.1L907.2,1423.1L898.3,1418.1L889.3,1414.3L875.8,1409.9L857.7,1406.6L851.8,1404.1L845.8,1400.5L838.5,1394.6L831.1,1387.1L822.0,1376.6L811.3,1362.9L811.3,1108.1L812.8,1108.1ZM1444.3,1123.0L1448.8,1123.6L1451.8,1124.6L1454.8,1126.4L1457.5,1129.1L1459.4,1132.1L1460.9,1136.6L1461.2,1145.6L1458.8,1156.1L1456.3,1161.6L1453.1,1166.6L1450.3,1169.7L1445.8,1172.9L1441.3,1174.4L1438.3,1174.5L1435.3,1173.7L1432.3,1171.7L1429.0,1166.6L1424.9,1145.6L1425.1,1139.6L1427.0,1132.1L1430.8,1127.9L1436.8,1124.5L1444.3,1123.0Z" fill="#d8a07c" fill-rule="evenodd"/>
<path d="M812.8,1108.1L1147.3,1108.1L1165.1,1121.6L1171.6,1127.6L1177.1,1133.6L1184.2,1144.1L1191.9,1160.6L1194.7,1165.1L1200.7,1172.6L1213.3,1185.9L1239.8,1208.6L1267.3,1226.7L1297.3,1240.8L1316.8,1246.2L1328.8,1251.4L1345.3,1253.7L1354.3,1256.2L1358.8,1256.9L1382.8,1258.1L1394.8,1256.6L1399.3,1256.6L1403.8,1257.4L1408.3,1259.4L1413.3,1264.1L1418.6,1273.1L1420.9,1280.6L1421.0,1288.1L1413.2,1313.6L1410.9,1325.6L1409.5,1330.1L1402.3,1343.5L1393.0,1357.1L1391.0,1361.6L1385.9,1381.1L1385.0,1388.6L1382.9,1399.1L1382.3,1406.6L1382.4,1418.6L1381.2,1427.6L1377.9,1438.1L1371.7,1450.1L1366.3,1458.0L1359.4,1466.6L1351.3,1475.3L1342.3,1483.8L1321.2,1501.1L1310.5,1508.6L1298.6,1516.1L1288.3,1521.6L1279.3,1525.7L1270.3,1529.1L1261.3,1531.6L1253.8,1533.1L1244.8,1534.0L1235.8,1534.1L1226.8,1533.4L1208.8,1530.7L1204.2,1529.6L1193.8,1525.2L1181.8,1518.0L1154.8,1504.7L1145.8,1502.0L1127.8,1498.5L1118.8,1495.5L1094.8,1482.2L1052.8,1467.0L1043.8,1463.1L1030.3,1456.3L1010.8,1448.9L959.8,1424.1L937.3,1412.1L919.3,1404.2L905.8,1400.1L881.8,1396.8L868.0,1393.1L860.8,1389.9L851.5,1382.6L839.8,1369.3L826.7,1351.1L811.3,1326.6L811.3,1108.1L812.8,1108.1Z" fill="#d0928a" fill-rule="evenodd"/>
<path d="M812.8,1108.1L1092.8,1108.1L1132.0,1130.6L1144.3,1138.6L1152.2,1145.6L1156.0,1151.6L1162.8,1168.1L1167.6,1175.6L1183.3,1195.5L1210.3,1222.3L1226.1,1235.6L1235.8,1245.0L1243.3,1250.6L1254.8,1256.6L1262.8,1261.5L1279.2,1267.1L1301.7,1279.1L1306.7,1283.6L1315.3,1293.4L1322.8,1300.0L1325.4,1303.1L1327.9,1307.6L1333.4,1321.1L1337.3,1328.6L1338.8,1333.1L1339.7,1339.1L1340.5,1351.1L1342.8,1364.6L1344.1,1379.6L1346.1,1388.6L1349.4,1397.6L1356.3,1408.1L1358.6,1414.1L1358.8,1417.1L1358.1,1421.6L1354.3,1430.8L1350.5,1436.6L1345.4,1442.6L1333.3,1453.5L1315.4,1466.6L1279.9,1490.6L1267.0,1498.1L1255.3,1503.2L1246.3,1505.6L1237.3,1505.6L1232.8,1504.5L1228.2,1502.6L1207.3,1491.0L1187.8,1476.0L1169.8,1464.7L1162.3,1460.9L1157.8,1459.5L1145.8,1457.9L1138.3,1456.0L1127.8,1451.1L1114.3,1442.2L1109.8,1440.2L1064.8,1426.4L1040.8,1417.8L980.8,1397.7L919.3,1369.1L893.8,1361.0L877.3,1358.9L869.8,1356.7L865.3,1354.8L860.2,1351.1L854.4,1345.1L848.7,1337.6L841.3,1326.1L826.1,1298.6L811.3,1266.5L811.3,1108.1L812.8,1108.1Z" fill="#e8bcc8" fill-rule="evenodd"/>
<path d="M853.3,1109.4L854.5,1108.1L999.4,1108.1L1028.8,1120.0L1052.8,1130.8L1070.8,1140.1L1084.3,1148.6L1091.8,1154.5L1111.5,1172.6L1118.4,1183.1L1129.8,1196.6L1136.8,1210.1L1148.8,1222.5L1156.6,1232.6L1173.3,1249.1L1196.5,1279.1L1209.3,1292.6L1217.8,1306.2L1238.8,1332.1L1241.8,1337.9L1244.7,1346.6L1246.8,1355.6L1247.8,1364.6L1247.7,1372.1L1246.7,1378.1L1244.7,1384.1L1241.3,1390.1L1237.0,1394.6L1231.3,1398.6L1226.6,1400.6L1220.8,1401.4L1192.3,1401.2L1166.8,1395.9L1147.3,1393.8L1121.8,1385.8L1101.1,1382.6L1087.3,1377.5L1063.3,1373.5L1046.8,1369.7L1033.3,1365.5L1014.9,1358.6L991.3,1352.0L944.8,1333.3L914.8,1320.2L890.8,1311.9L884.8,1309.1L880.3,1306.3L872.6,1300.1L865.3,1291.7L859.1,1282.1L853.3,1270.5L847.3,1255.3L842.5,1240.1L838.3,1222.4L835.4,1205.6L833.9,1190.6L833.4,1175.6L834.0,1162.1L835.6,1150.1L838.4,1138.1L842.2,1127.6L847.3,1117.7L853.3,1109.4Z" fill="#fdeefb" fill-rule="evenodd"/>
<path class="cl" d="M1506.2,1399.5L1505.2,1401.5M831.8,1488.6L832.5,1481.6L831.0,1475.6L827.8,1471.0L822.0,1466.3M1502.0,1393.8L1498.4,1400.6M838.9,1495.1L840.6,1489.1L841.5,1483.1L841.5,1478.6L840.5,1474.1L838.3,1469.6L835.8,1466.6L830.8,1462.3L827.0,1459.8M1271.2,1114.1L1274.8,1115.8L1277.8,1116.6L1307.8,1120.2L1334.8,1120.9L1357.6,1118.6L1363.1,1117.1M1498.1,1389.9L1492.2,1400.6M844.8,1500.1L847.4,1489.1L848.2,1483.1L848.1,1477.1L846.7,1471.1L844.3,1466.2L841.3,1462.6L830.8,1454.7M1129.5,1599.8L1126.3,1598.4L1120.3,1597.2L1109.0,1598.6L1101.3,1601.6L1092.3,1609.1M1017.9,1601.6L1009.3,1597.3L1000.3,1594.1L997.3,1593.5L987.9,1592.6L980.9,1594.2M1257.8,1116.0L1263.2,1120.1L1268.8,1123.2L1277.9,1126.1L1298.8,1129.1L1327.3,1130.3L1336.3,1130.0L1361.8,1127.3L1373.8,1124.1L1381.9,1120.1M1494.3,1384.6L1484.8,1400.6M851.7,1507.0L852.3,1499.6L854.9,1483.1L854.8,1475.6L853.5,1469.6L850.8,1463.6L847.2,1459.1L835.0,1450.3M1135.6,1593.8L1127.8,1590.8L1121.8,1589.6L1115.6,1589.6L1105.3,1590.7L1096.3,1593.4L1090.3,1596.7L1082.8,1601.7L1079.8,1602.7L1076.8,1603.0L1070.6,1601.6L1055.8,1596.0L1030.3,1592.7L1004.8,1585.1L998.8,1583.8L988.3,1583.4L982.3,1584.2L976.3,1586.5L970.4,1589.6M1248.0,1119.8L1253.8,1125.0L1260.3,1129.1L1270.3,1133.6L1277.8,1136.0L1291.3,1139.1L1325.8,1141.5L1346.8,1139.2L1360.3,1138.3L1378.3,1134.1L1384.3,1132.2L1391.8,1128.5L1396.3,1125.6L1399.0,1123.1M1489.2,1377.9L1475.7,1399.1M862.3,1516.1L862.1,1502.6L864.4,1480.1L863.9,1472.6L862.4,1466.6L858.7,1459.1L854.7,1454.6L839.1,1444.7M1141.9,1587.4L1130.6,1583.6L1120.3,1581.8L1105.3,1581.7L1085.8,1583.8L1078.3,1584.0L1072.3,1583.4L1057.3,1580.5L1039.3,1578.9L1018.3,1575.2L997.3,1573.0L988.3,1573.2L979.3,1574.7L957.5,1582.7M1239.4,1123.1L1243.3,1127.7L1249.4,1133.6L1257.9,1139.6L1266.6,1144.1L1283.8,1150.7L1289.8,1152.5L1295.8,1153.5L1301.8,1153.9L1313.8,1153.4L1324.3,1155.3L1330.3,1155.8L1336.3,1155.2L1348.3,1152.3L1363.3,1152.8L1369.3,1151.5L1377.1,1148.6L1385.8,1147.6L1391.8,1146.1L1396.3,1143.5L1399.3,1140.6L1405.8,1132.1L1409.7,1124.6M1482.5,1369.8L1478.3,1376.6L1472.8,1382.6L1468.3,1388.9L1463.6,1399.1M881.3,1533.5L879.5,1528.1L878.6,1519.1L879.7,1510.1L882.5,1498.1L883.3,1481.6L882.2,1471.1L879.7,1462.1L878.2,1459.1L874.0,1453.1L871.3,1450.1L866.8,1446.5L860.8,1443.5L850.3,1440.2L844.8,1437.5M1150.1,1580.8L1129.3,1573.5L1073.8,1564.4L1061.8,1563.0L1019.8,1560.0L989.8,1559.3L980.8,1559.9L967.3,1562.6L947.8,1569.2L941.8,1570.5L938.0,1570.8M1229.8,1126.1L1241.8,1141.4L1248.4,1148.6L1253.8,1152.4L1273.3,1163.4L1285.3,1167.3L1303.3,1170.7L1339.3,1172.7L1358.8,1171.6L1381.3,1168.8L1390.3,1166.4L1402.8,1160.6L1406.8,1157.2L1410.2,1151.6L1411.1,1148.6L1412.8,1138.1L1417.2,1126.1M1444.0,1334.3L1442.8,1339.1L1442.8,1345.1L1444.6,1351.1L1447.3,1356.4L1449.2,1358.6L1453.3,1360.5L1463.8,1361.7L1465.5,1363.1L1465.8,1364.6L1464.6,1367.6L1459.1,1373.6L1455.7,1379.6L1454.7,1382.6L1451.7,1397.6M1162.1,1570.2L1157.8,1568.2L1147.3,1564.8L1133.8,1559.5L1117.3,1553.8L1106.8,1551.3L1090.3,1546.5L1079.8,1544.3L1064.8,1542.1L1048.3,1542.4L1003.3,1539.3L974.8,1535.9L961.3,1533.6L943.3,1532.0L934.3,1530.1L928.2,1528.1L922.3,1524.6L919.1,1522.1L914.6,1516.1L909.8,1504.1L897.1,1460.6L894.3,1454.6L887.8,1444.7L881.3,1438.1L872.8,1432.4L866.8,1430.2L853.3,1427.2M1217.7,1130.6L1221.1,1135.1L1232.5,1154.6L1234.3,1156.8L1238.8,1161.2L1247.2,1168.1L1252.9,1174.1L1257.7,1177.1L1271.8,1181.7L1279.3,1186.7L1285.3,1189.1L1291.3,1190.0L1307.8,1190.8L1310.8,1191.5L1316.8,1194.2L1321.3,1195.3L1327.3,1195.2L1337.8,1193.8L1343.8,1193.7L1352.8,1196.3L1355.8,1196.7L1360.3,1196.2L1373.8,1192.1L1376.8,1191.9L1382.8,1192.4L1388.8,1191.7L1399.3,1187.9L1406.8,1185.7L1411.3,1182.8L1414.3,1178.9L1416.1,1175.6L1418.1,1171.1L1418.9,1168.1L1420.7,1153.1L1419.8,1145.6L1419.9,1139.6L1421.2,1133.6L1423.9,1127.6M1477.0,1154.2L1468.9,1174.1L1465.2,1181.6L1462.6,1185.7M1450.9,1197.4L1445.8,1200.4L1435.0,1205.6L1433.7,1207.1L1433.4,1208.6L1433.9,1210.1L1435.2,1211.7M1434.9,1316.1L1431.9,1321.1L1429.7,1327.1L1428.3,1336.1L1428.1,1342.1L1428.8,1351.1L1430.4,1360.1L1437.2,1379.6L1438.6,1385.6L1439.2,1393.1L1438.2,1397.6M1175.5,1559.8L1163.8,1554.1L1148.6,1549.1L1127.5,1540.1L1099.3,1531.0L1070.8,1524.6L1052.8,1522.2L1034.8,1518.6L976.3,1506.1L962.8,1501.8L955.6,1498.1L948.7,1493.6L943.1,1489.1L937.1,1483.1L927.7,1471.1L914.8,1448.9L911.5,1444.1L906.4,1438.1L899.8,1432.0L889.3,1424.3L875.8,1417.8L856.3,1413.8M1198.9,1135.1L1202.8,1141.4L1210.4,1157.6L1214.5,1163.6L1219.3,1168.7L1240.3,1188.3L1247.8,1193.1L1259.8,1199.7L1265.8,1204.2L1271.8,1207.3L1288.3,1212.6L1297.3,1217.6L1306.3,1219.8L1327.3,1221.0L1342.3,1225.4L1357.3,1226.6L1376.8,1226.0L1402.3,1222.6L1405.3,1222.7L1408.6,1223.6L1411.9,1225.1L1416.2,1228.1L1418.8,1230.7M1451.7,1138.0L1452.2,1148.6L1451.2,1153.1L1449.9,1156.1L1447.3,1159.7L1444.3,1162.2L1439.8,1163.9L1436.4,1163.6L1433.8,1161.6L1432.3,1158.8L1429.3,1149.7L1428.1,1144.1L1428.6,1138.1L1429.6,1135.1L1432.3,1131.6L1434.9,1130.2M1428.8,1302.6L1424.2,1312.1L1420.7,1322.6L1415.0,1357.1L1414.8,1364.6L1413.5,1376.6L1407.9,1400.6M1195.4,1544.4L1186.3,1542.8L1173.3,1535.6L1169.8,1534.1L1150.3,1529.1L1140.7,1523.6L1121.8,1518.5L1108.3,1512.8L1091.8,1507.7L1077.2,1502.6L1034.8,1489.4L1003.3,1477.7L989.8,1472.0L977.8,1465.8L935.8,1433.3L924.3,1426.1L908.8,1417.6L899.8,1413.5L890.8,1410.5L877.3,1406.8L860.8,1403.6L857.8,1402.6M1176.7,1139.6L1181.0,1147.1L1187.8,1161.4L1190.8,1166.6L1195.4,1172.6L1211.8,1190.0L1238.8,1213.1L1265.8,1231.3L1288.3,1241.6L1294.3,1244.9L1313.8,1251.4L1321.3,1255.8L1325.8,1257.5L1343.8,1260.7L1351.3,1263.1L1357.3,1264.2L1372.3,1265.3L1379.8,1266.6L1393.3,1265.4L1399.3,1265.5L1402.3,1266.2L1405.3,1267.6L1410.7,1272.1M1416.5,1282.7L1416.9,1286.6L1416.4,1291.1L1413.6,1303.1L1410.8,1312.1L1408.1,1325.6L1406.9,1328.6L1397.8,1342.1L1391.8,1349.0L1387.3,1353.1L1385.5,1355.6L1381.1,1370.6L1378.1,1376.6L1377.5,1379.6L1378.2,1388.6L1376.1,1403.6L1377.2,1409.2M1217.0,1527.4L1207.3,1525.9L1199.8,1523.1L1193.8,1520.0L1186.1,1514.6L1173.9,1508.6L1162.3,1501.8L1156.3,1499.2L1147.3,1496.7L1127.8,1493.1L1121.8,1491.1L1112.8,1485.8L1102.3,1478.4L1097.8,1476.0L1064.8,1464.5L1051.3,1459.0L1043.8,1455.3L1036.3,1450.6L1016.8,1443.6L962.7,1420.1L938.8,1407.7L922.1,1400.6L913.2,1397.6L907.3,1396.2L886.3,1394.5L883.3,1393.9L868.3,1389.5L860.8,1385.5M1145.9,1147.0L1148.4,1150.1L1151.0,1154.6L1157.0,1169.6L1160.8,1175.6L1171.3,1188.0L1180.3,1199.8L1205.8,1225.4L1222.3,1239.4L1231.4,1249.1L1238.8,1255.6L1243.3,1258.1L1252.3,1262.2L1259.8,1267.2L1273.3,1272.4L1277.8,1276.3L1283.9,1285.1L1286.8,1287.2L1294.3,1289.9L1297.5,1292.6L1300.4,1297.1L1302.8,1303.1L1304.8,1306.7L1315.3,1316.7L1327.3,1337.7L1330.3,1347.1L1334.4,1363.1L1337.1,1381.1L1339.4,1390.1L1344.3,1400.6L1353.2,1412.6L1354.1,1415.6L1353.9,1419.0M1251.1,1497.7L1246.3,1498.9L1241.8,1499.4L1236.4,1498.1L1231.3,1494.8L1223.8,1488.4L1208.5,1481.6L1206.4,1480.1L1199.8,1473.7L1196.8,1471.6L1184.8,1465.6L1172.8,1456.7L1163.8,1452.2L1157.8,1450.8L1147.3,1450.3L1140.5,1448.6L1132.3,1445.2L1112.8,1434.7L1103.8,1431.2L1088.8,1426.5L1070.8,1422.4L1045.3,1413.5L1025.8,1407.6L1005.8,1400.6L985.3,1394.0L974.8,1389.5L925.3,1365.4L905.8,1358.0L893.8,1354.6L874.3,1351.9L869.8,1350.7L867.1,1349.2M1088.4,1165.5L1105.4,1180.1L1112.1,1190.6L1123.3,1204.1L1127.8,1213.7L1130.8,1218.4L1144.4,1232.6L1151.8,1243.6L1163.9,1258.1L1168.9,1270.1L1172.6,1274.6L1181.8,1284.1L1186.3,1292.6L1195.8,1306.1L1197.5,1310.6L1203.0,1330.1L1204.1,1336.1L1204.3,1342.1L1203.3,1348.1L1200.9,1355.6L1197.8,1360.1L1193.8,1363.1L1187.8,1366.2L1180.3,1368.5L1166.8,1369.7L1151.8,1369.5L1138.3,1368.8L1111.3,1366.2L1088.8,1361.3L1063.3,1357.5L1048.3,1353.8L1013.8,1342.5L988.3,1335.3L946.3,1318.8L916.1,1304.6L893.8,1297.7L887.8,1295.0L884.6,1292.8"/>
</g>
<text transform="translate(1287.8,1108.6) rotate(20.0) scale(1.130,1)" font-size="15.0" text-anchor="middle" dy="0.36em">227</text>
<text transform="translate(1336.5,1107.2) rotate(5.0) scale(1.130,1)" font-size="15.0" text-anchor="middle" dy="0.36em">226.5</text>
<text transform="translate(1385.2,1121.5) rotate(-40.0) scale(1.130,1)" font-size="15.0" text-anchor="middle" dy="0.36em">227.5</text>
<text transform="translate(1335.1,1137.3) rotate(3.0) scale(1.130,1)" font-size="15.0" text-anchor="middle" dy="0.36em">228</text>
<text transform="translate(1379.5,1153.0) rotate(-15.0) scale(1.130,1)" font-size="15.0" text-anchor="middle" dy="0.36em">228.5</text>
<text transform="translate(1283.5,1161.6) rotate(25.0) scale(1.130,1)" font-size="15.0" text-anchor="middle" dy="0.36em">229</text>
<text transform="translate(1360.9,1204.6) rotate(12.0) scale(1.130,1)" font-size="15.0" text-anchor="middle" dy="0.36em">229.5</text>
<text transform="translate(1307.9,1224.7) rotate(25.0) scale(1.130,1)" font-size="15.0" text-anchor="middle" dy="0.36em">230</text>
<text transform="translate(1188.9,1190.3) rotate(52.0) scale(1.130,1)" font-size="15.0" text-anchor="middle" dy="0.36em">230.5</text>
<text transform="translate(1168.8,1254.8) rotate(50.0) scale(1.130,1)" font-size="15.0" text-anchor="middle" dy="0.36em">231</text>
<text transform="translate(1431.1,1148.7) rotate(-65.0) scale(1.130,1)" font-size="15.0" text-anchor="middle" dy="0.36em">229.5</text>
<text transform="translate(1432.5,1193.2) rotate(-40.0) scale(1.130,1)" font-size="15.0" text-anchor="middle" dy="0.36em">229</text>
<text transform="translate(1471.2,1177.4) rotate(80.0) scale(1.130,1)" font-size="15.0" text-anchor="middle" dy="0.36em">229</text>
<text transform="translate(1399.6,1303.5) rotate(-85.0) scale(1.130,1)" font-size="15.0" text-anchor="middle" dy="0.36em">230</text>
<text transform="translate(1405.3,1343.6) rotate(-80.0) scale(1.130,1)" font-size="15.0" text-anchor="middle" dy="0.36em">229.5</text>
<text transform="translate(848.7,1470.7) rotate(70.0) scale(1.130,1)" font-size="15.0" text-anchor="middle" dy="0.36em">226</text>
<text transform="translate(888.9,1463.5) rotate(68.0) scale(1.130,1)" font-size="15.0" text-anchor="middle" dy="0.36em">228</text>
<text transform="translate(921.8,1447.7) rotate(45.0) scale(1.130,1)" font-size="15.0" text-anchor="middle" dy="0.36em">229</text>
<text transform="translate(1058.0,1446.3) rotate(20.0) scale(1.130,1)" font-size="15.0" text-anchor="middle" dy="0.36em">230</text>
<text transform="translate(1138.2,1433.4) rotate(20.0) scale(1.130,1)" font-size="15.0" text-anchor="middle" dy="0.36em">230.5</text>
<text transform="translate(1141.1,1506.5) rotate(22.0) scale(1.130,1)" font-size="15.0" text-anchor="middle" dy="0.36em">229.5</text>
<text transform="translate(1135.4,1548.0) rotate(22.0) scale(1.130,1)" font-size="15.0" text-anchor="middle" dy="0.36em">228.5</text>
<text transform="translate(1079.5,1553.8) rotate(3.0) scale(1.130,1)" font-size="15.0" text-anchor="middle" dy="0.36em">228</text>
<text transform="translate(979.2,1566.7) rotate(-18.0) scale(1.130,1)" font-size="15.0" text-anchor="middle" dy="0.36em">227.5</text>
<text transform="translate(1030.7,1578.1) rotate(8.0) scale(1.130,1)" font-size="15.0" text-anchor="middle" dy="0.36em">227</text>
<text transform="translate(1106.7,1585.3) rotate(-20.0) scale(1.130,1)" font-size="15.0" text-anchor="middle" dy="0.36em">226.5</text>
<text transform="translate(1448.3,1367.5) rotate(-55.0) scale(1.130,1)" font-size="15.0" text-anchor="middle" dy="0.36em">228.5</text>
<text transform="translate(1469.8,1386.1) rotate(-65.0) scale(1.130,1)" font-size="15.0" text-anchor="middle" dy="0.36em">227.5</text>
<text transform="translate(1454.0,1341.7) rotate(75.0) scale(1.130,1)" font-size="15.0" text-anchor="middle" dy="0.36em">229.5</text>
<polygon points="817.3,1474.1 854.0,1427.2 877.6,1297.4 911.4,1279.5 984.7,1221.7 1001.2,1204.7 1067.7,1175.7 1109.6,1156.9 1140.4,1148.6 1183.9,1139.0 1215.8,1131.5 1265.7,1114.5 1327.3,1114.1 1343.2,1114.3 1385.7,1120.9 1440.9,1131.8 1486.6,1161.4 1418.6,1226.3 1409.1,1275.3 1424.0,1294.7 1441.5,1333.4 1478.1,1366.4 1505.8,1400.6 1428.3,1396.0 1388.2,1403.5 1353.6,1418.3 1327.3,1443.6 1274.7,1476.2 1215.8,1526.6 1145.3,1583.0 1125.8,1602.4 1078.8,1611.3 978.4,1593.6 897.7,1546.9" fill="none" stroke="#000" stroke-width="2.6" stroke-linejoin="miter"/>
<text transform="translate(885.5,1676.8) scale(1.173,1)" font-size="21.0" font-weight="bold">Legend</text>
<line x1="886.3" y1="1706.2" x2="935.6" y2="1706.2" stroke="#62bf3c" stroke-width="1.5"/>
<text transform="translate(942.7,1712.6) scale(1.092,1)" font-size="16.5">Contour</text>
<rect x="887.1" y="1726.5" width="47.7" height="21.0" fill="#fff" stroke="#000" stroke-width="2"/>
<text transform="translate(942.2,1743.4) scale(1.097,1)" font-size="16.5">Boundary</text>
<rect x="886.3" y="1756.9" width="49.3" height="22.6" fill="#6f9a5a" stroke="#8a8378" stroke-width="0.8"/>
<text transform="translate(942.7,1774.6) scale(1.071,1)" font-size="16.5">224.44 - 226.04</text>
<rect x="886.3" y="1788.2" width="49.3" height="22.6" fill="#a9be78" stroke="#8a8378" stroke-width="0.8"/>
<text transform="translate(942.7,1805.9) scale(1.074,1)" font-size="16.5">226.04 - 226.97</text>
<rect x="1076.3" y="1694.9" width="49.0" height="22.6" fill="#e8e8a0" stroke="#8a8378" stroke-width="0.8"/>
<text transform="translate(1132.7,1712.6) scale(1.074,1)" font-size="16.5">226.97 - 227.65</text>
<rect x="1076.3" y="1725.7" width="49.0" height="22.6" fill="#f5e4a0" stroke="#8a8378" stroke-width="0.8"/>
<text transform="translate(1132.7,1743.4) scale(1.074,1)" font-size="16.5">227.65 - 228.22</text>
<rect x="1076.3" y="1756.9" width="49.0" height="22.6" fill="#f4d48c" stroke="#8a8378" stroke-width="0.8"/>
<text transform="translate(1132.7,1774.6) scale(1.074,1)" font-size="16.5">228.22 - 228.77</text>
<rect x="1076.3" y="1788.2" width="49.0" height="22.6" fill="#e8b880" stroke="#8a8378" stroke-width="0.8"/>
<text transform="translate(1132.7,1805.9) scale(1.071,1)" font-size="16.5">228.77 - 229.34</text>
<rect x="1265.3" y="1694.9" width="49.5" height="22.6" fill="#d8a07c" stroke="#8a8378" stroke-width="0.8"/>
<text transform="translate(1322.2,1712.6) scale(1.074,1)" font-size="16.5">229.34 - 229.91</text>
<rect x="1265.3" y="1725.7" width="49.5" height="22.6" fill="#d0928a" stroke="#8a8378" stroke-width="0.8"/>
<text transform="translate(1322.2,1743.4) scale(1.074,1)" font-size="16.5">229.91 - 230.43</text>
<rect x="1265.3" y="1756.9" width="49.5" height="22.6" fill="#e8bcc8" stroke="#8a8378" stroke-width="0.8"/>
<text transform="translate(1322.2,1774.6) scale(1.074,1)" font-size="16.5">230.43 - 230.89</text>
<rect x="1265.3" y="1788.2" width="49.5" height="22.6" fill="#fdeefb" stroke="#8a8378" stroke-width="0.8"/>
<text transform="translate(1322.2,1805.9) scale(1.074,1)" font-size="16.5">230.89 - 231.38</text>
<rect x="887.4" y="1825.6" width="193.6" height="7.8" fill="#000"/>
<rect x="900.1" y="1826.9" width="11.0" height="5.2" fill="#fff"/>
<rect x="923.8" y="1826.9" width="11.5" height="5.2" fill="#fff"/>
<rect x="984.2" y="1826.9" width="47.8" height="5.2" fill="#fff"/>
<text transform="translate(1083.7,1833.2) scale(1.140,1)" font-size="13.5">Km</text>
<text transform="translate(887.4,1850.8) scale(1.160,1)" font-size="13.8" text-anchor="middle">0</text>
<text transform="translate(935.8,1850.8) scale(1.160,1)" font-size="13.8" text-anchor="middle">0.2</text>
<text transform="translate(984.2,1850.8) scale(1.160,1)" font-size="13.8" text-anchor="middle">0.4</text>
<text transform="translate(1032.6,1850.8) scale(1.160,1)" font-size="13.8" text-anchor="middle">0.6</text>
<text transform="translate(1081.0,1850.8) scale(1.160,1)" font-size="13.8" text-anchor="middle">0.8</text>
<text transform="translate(1144.8,1908.8)" font-size="42.0" font-weight="bold" style="font-family:'Liberation Serif',serif;fill:#000">d</text>
</g>
</svg>
</body></html>
